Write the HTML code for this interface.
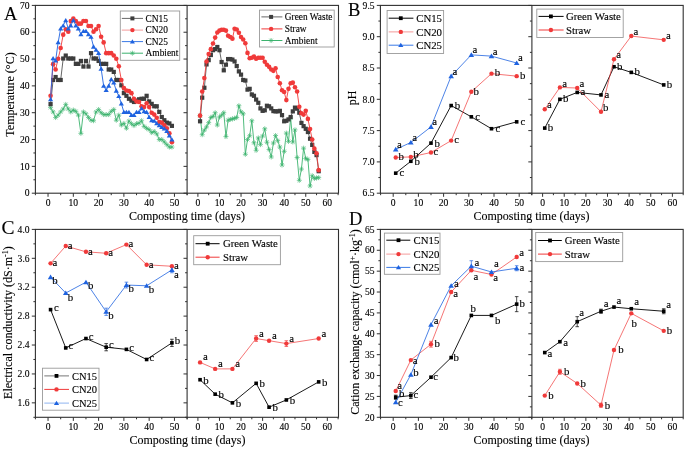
<!DOCTYPE html><html><head><meta charset="utf-8"><style>html,body{margin:0;padding:0;background:#fff;width:685px;height:449px;overflow:hidden}svg{display:block;will-change:transform}</style></head><body>
<svg width="685" height="449" viewBox="0 0 685 449" font-family='"Liberation Serif", serif' fill="#000"><style>text{stroke:#000;stroke-width:0.12px}</style>
<rect x="35.4" y="5.4" width="303.1" height="187.8" fill="none" stroke="#303030" stroke-width="1.1"/>
<line x1="187.1" y1="5.4" x2="187.1" y2="193.2" stroke="#303030" stroke-width="1.1"/>
<line x1="33.4" y1="179.79" x2="35.4" y2="179.79" stroke="#303030" stroke-width="1"/>
<line x1="33.4" y1="152.96" x2="35.4" y2="152.96" stroke="#303030" stroke-width="1"/>
<line x1="33.4" y1="126.13" x2="35.4" y2="126.13" stroke="#303030" stroke-width="1"/>
<line x1="33.4" y1="99.3" x2="35.4" y2="99.3" stroke="#303030" stroke-width="1"/>
<line x1="33.4" y1="72.47" x2="35.4" y2="72.47" stroke="#303030" stroke-width="1"/>
<line x1="33.4" y1="45.64" x2="35.4" y2="45.64" stroke="#303030" stroke-width="1"/>
<line x1="33.4" y1="18.81" x2="35.4" y2="18.81" stroke="#303030" stroke-width="1"/>
<line x1="31.8" y1="193.2" x2="35.4" y2="193.2" stroke="#303030" stroke-width="1"/>
<text x="29.6" y="196.4" text-anchor="end" font-size="9.6">0</text>
<line x1="31.8" y1="166.37" x2="35.4" y2="166.37" stroke="#303030" stroke-width="1"/>
<text x="29.6" y="169.57" text-anchor="end" font-size="9.6">10</text>
<line x1="31.8" y1="139.54" x2="35.4" y2="139.54" stroke="#303030" stroke-width="1"/>
<text x="29.6" y="142.74" text-anchor="end" font-size="9.6">20</text>
<line x1="31.8" y1="112.71" x2="35.4" y2="112.71" stroke="#303030" stroke-width="1"/>
<text x="29.6" y="115.91" text-anchor="end" font-size="9.6">30</text>
<line x1="31.8" y1="85.89" x2="35.4" y2="85.89" stroke="#303030" stroke-width="1"/>
<text x="29.6" y="89.09" text-anchor="end" font-size="9.6">40</text>
<line x1="31.8" y1="59.06" x2="35.4" y2="59.06" stroke="#303030" stroke-width="1"/>
<text x="29.6" y="62.26" text-anchor="end" font-size="9.6">50</text>
<line x1="31.8" y1="32.23" x2="35.4" y2="32.23" stroke="#303030" stroke-width="1"/>
<text x="29.6" y="35.43" text-anchor="end" font-size="9.6">60</text>
<line x1="31.8" y1="5.4" x2="35.4" y2="5.4" stroke="#303030" stroke-width="1"/>
<text x="29.6" y="8.6" text-anchor="end" font-size="9.6">70</text>
<line x1="185.1" y1="179.79" x2="187.1" y2="179.79" stroke="#303030" stroke-width="1"/>
<line x1="185.1" y1="152.96" x2="187.1" y2="152.96" stroke="#303030" stroke-width="1"/>
<line x1="185.1" y1="126.13" x2="187.1" y2="126.13" stroke="#303030" stroke-width="1"/>
<line x1="185.1" y1="99.3" x2="187.1" y2="99.3" stroke="#303030" stroke-width="1"/>
<line x1="185.1" y1="72.47" x2="187.1" y2="72.47" stroke="#303030" stroke-width="1"/>
<line x1="185.1" y1="45.64" x2="187.1" y2="45.64" stroke="#303030" stroke-width="1"/>
<line x1="185.1" y1="18.81" x2="187.1" y2="18.81" stroke="#303030" stroke-width="1"/>
<line x1="183.5" y1="193.2" x2="187.1" y2="193.2" stroke="#303030" stroke-width="1"/>
<line x1="183.5" y1="166.37" x2="187.1" y2="166.37" stroke="#303030" stroke-width="1"/>
<line x1="183.5" y1="139.54" x2="187.1" y2="139.54" stroke="#303030" stroke-width="1"/>
<line x1="183.5" y1="112.71" x2="187.1" y2="112.71" stroke="#303030" stroke-width="1"/>
<line x1="183.5" y1="85.89" x2="187.1" y2="85.89" stroke="#303030" stroke-width="1"/>
<line x1="183.5" y1="59.06" x2="187.1" y2="59.06" stroke="#303030" stroke-width="1"/>
<line x1="183.5" y1="32.23" x2="187.1" y2="32.23" stroke="#303030" stroke-width="1"/>
<line x1="183.5" y1="5.4" x2="187.1" y2="5.4" stroke="#303030" stroke-width="1"/>
<line x1="35.4" y1="193.2" x2="35.4" y2="195.2" stroke="#303030" stroke-width="1"/>
<line x1="48.04" y1="193.2" x2="48.04" y2="196.8" stroke="#303030" stroke-width="1"/>
<text x="48.04" y="205.8" text-anchor="middle" font-size="9.6">0</text>
<line x1="60.68" y1="193.2" x2="60.68" y2="195.2" stroke="#303030" stroke-width="1"/>
<line x1="73.32" y1="193.2" x2="73.32" y2="196.8" stroke="#303030" stroke-width="1"/>
<text x="73.32" y="205.8" text-anchor="middle" font-size="9.6">10</text>
<line x1="85.96" y1="193.2" x2="85.96" y2="195.2" stroke="#303030" stroke-width="1"/>
<line x1="98.6" y1="193.2" x2="98.6" y2="196.8" stroke="#303030" stroke-width="1"/>
<text x="98.6" y="205.8" text-anchor="middle" font-size="9.6">20</text>
<line x1="111.24" y1="193.2" x2="111.24" y2="195.2" stroke="#303030" stroke-width="1"/>
<line x1="123.88" y1="193.2" x2="123.88" y2="196.8" stroke="#303030" stroke-width="1"/>
<text x="123.88" y="205.8" text-anchor="middle" font-size="9.6">30</text>
<line x1="136.52" y1="193.2" x2="136.52" y2="195.2" stroke="#303030" stroke-width="1"/>
<line x1="149.16" y1="193.2" x2="149.16" y2="196.8" stroke="#303030" stroke-width="1"/>
<text x="149.16" y="205.8" text-anchor="middle" font-size="9.6">40</text>
<line x1="161.8" y1="193.2" x2="161.8" y2="195.2" stroke="#303030" stroke-width="1"/>
<line x1="174.44" y1="193.2" x2="174.44" y2="196.8" stroke="#303030" stroke-width="1"/>
<text x="174.44" y="205.8" text-anchor="middle" font-size="9.6">50</text>
<line x1="187.08" y1="193.2" x2="187.08" y2="195.2" stroke="#303030" stroke-width="1"/>
<line x1="187.12" y1="193.2" x2="187.12" y2="195.2" stroke="#303030" stroke-width="1"/>
<line x1="197.9" y1="193.2" x2="197.9" y2="196.8" stroke="#303030" stroke-width="1"/>
<text x="197.9" y="205.8" text-anchor="middle" font-size="9.6">0</text>
<line x1="208.69" y1="193.2" x2="208.69" y2="195.2" stroke="#303030" stroke-width="1"/>
<line x1="219.47" y1="193.2" x2="219.47" y2="196.8" stroke="#303030" stroke-width="1"/>
<text x="219.47" y="205.8" text-anchor="middle" font-size="9.6">10</text>
<line x1="230.25" y1="193.2" x2="230.25" y2="195.2" stroke="#303030" stroke-width="1"/>
<line x1="241.04" y1="193.2" x2="241.04" y2="196.8" stroke="#303030" stroke-width="1"/>
<text x="241.04" y="205.8" text-anchor="middle" font-size="9.6">20</text>
<line x1="251.82" y1="193.2" x2="251.82" y2="195.2" stroke="#303030" stroke-width="1"/>
<line x1="262.61" y1="193.2" x2="262.61" y2="196.8" stroke="#303030" stroke-width="1"/>
<text x="262.61" y="205.8" text-anchor="middle" font-size="9.6">30</text>
<line x1="273.39" y1="193.2" x2="273.39" y2="195.2" stroke="#303030" stroke-width="1"/>
<line x1="284.18" y1="193.2" x2="284.18" y2="196.8" stroke="#303030" stroke-width="1"/>
<text x="284.18" y="205.8" text-anchor="middle" font-size="9.6">40</text>
<line x1="294.97" y1="193.2" x2="294.97" y2="195.2" stroke="#303030" stroke-width="1"/>
<line x1="305.75" y1="193.2" x2="305.75" y2="196.8" stroke="#303030" stroke-width="1"/>
<text x="305.75" y="205.8" text-anchor="middle" font-size="9.6">50</text>
<line x1="316.54" y1="193.2" x2="316.54" y2="195.2" stroke="#303030" stroke-width="1"/>
<line x1="327.32" y1="193.2" x2="327.32" y2="196.8" stroke="#303030" stroke-width="1"/>
<text x="327.32" y="205.8" text-anchor="middle" font-size="9.6">60</text>
<line x1="338.11" y1="193.2" x2="338.11" y2="195.2" stroke="#303030" stroke-width="1"/>
<polyline points="50.57,107.62 53.1,111.91 55.62,117.54 58.15,115.13 60.68,111.91 63.21,108.96 65.74,104.4 68.26,108.96 70.79,111.91 73.32,110.03 75.85,111.37 78.38,115.13 80.9,133.37 83.43,111.91 85.96,113.79 88.49,117.54 91.02,120.23 93.54,120.76 96.07,111.91 98.6,109.49 101.13,112.71 103.66,114.59 106.18,114.59 108.71,114.59 111.24,111.37 113.77,109.49 116.3,120.23 118.82,115.13 121.35,125.06 123.88,123.45 126.41,128.27 128.94,121.03 131.46,123.71 133.99,125.59 136.52,123.71 139.05,123.18 141.58,120.76 144.1,126.4 146.63,128.27 149.16,129.62 151.69,132.57 154.22,131.49 156.74,133.91 159.27,139.54 161.8,139.54 164.33,141.96 166.86,144.64 169.38,147.05 171.91,147.05" fill="none" stroke="#3cb36e" stroke-width="0.9" stroke-linejoin="round"/>
<path d="M48.07 107.62L53.07 107.62M50.57 105.12L50.57 110.12M48.77 105.82L52.37 109.42M48.77 109.42L52.37 105.82" stroke="#3cb36e" stroke-width="0.65" fill="none"/>
<path d="M50.6 111.91L55.6 111.91M53.1 109.41L53.1 114.41M51.3 110.11L54.9 113.71M51.3 113.71L54.9 110.11" stroke="#3cb36e" stroke-width="0.65" fill="none"/>
<path d="M53.12 117.54L58.12 117.54M55.62 115.04L55.62 120.04M53.82 115.74L57.42 119.34M53.82 119.34L57.42 115.74" stroke="#3cb36e" stroke-width="0.65" fill="none"/>
<path d="M55.65 115.13L60.65 115.13M58.15 112.63L58.15 117.63M56.35 113.33L59.95 116.93M56.35 116.93L59.95 113.33" stroke="#3cb36e" stroke-width="0.65" fill="none"/>
<path d="M58.18 111.91L63.18 111.91M60.68 109.41L60.68 114.41M58.88 110.11L62.48 113.71M58.88 113.71L62.48 110.11" stroke="#3cb36e" stroke-width="0.65" fill="none"/>
<path d="M60.71 108.96L65.71 108.96M63.21 106.46L63.21 111.46M61.41 107.16L65.01 110.76M61.41 110.76L65.01 107.16" stroke="#3cb36e" stroke-width="0.65" fill="none"/>
<path d="M63.24 104.4L68.24 104.4M65.74 101.9L65.74 106.9M63.94 102.6L67.54 106.2M63.94 106.2L67.54 102.6" stroke="#3cb36e" stroke-width="0.65" fill="none"/>
<path d="M65.76 108.96L70.76 108.96M68.26 106.46L68.26 111.46M66.46 107.16L70.06 110.76M66.46 110.76L70.06 107.16" stroke="#3cb36e" stroke-width="0.65" fill="none"/>
<path d="M68.29 111.91L73.29 111.91M70.79 109.41L70.79 114.41M68.99 110.11L72.59 113.71M68.99 113.71L72.59 110.11" stroke="#3cb36e" stroke-width="0.65" fill="none"/>
<path d="M70.82 110.03L75.82 110.03M73.32 107.53L73.32 112.53M71.52 108.23L75.12 111.83M71.52 111.83L75.12 108.23" stroke="#3cb36e" stroke-width="0.65" fill="none"/>
<path d="M73.35 111.37L78.35 111.37M75.85 108.87L75.85 113.87M74.05 109.57L77.65 113.17M74.05 113.17L77.65 109.57" stroke="#3cb36e" stroke-width="0.65" fill="none"/>
<path d="M75.88 115.13L80.88 115.13M78.38 112.63L78.38 117.63M76.58 113.33L80.18 116.93M76.58 116.93L80.18 113.33" stroke="#3cb36e" stroke-width="0.65" fill="none"/>
<path d="M78.4 133.37L83.4 133.37M80.9 130.87L80.9 135.87M79.1 131.57L82.7 135.17M79.1 135.17L82.7 131.57" stroke="#3cb36e" stroke-width="0.65" fill="none"/>
<path d="M80.93 111.91L85.93 111.91M83.43 109.41L83.43 114.41M81.63 110.11L85.23 113.71M81.63 113.71L85.23 110.11" stroke="#3cb36e" stroke-width="0.65" fill="none"/>
<path d="M83.46 113.79L88.46 113.79M85.96 111.29L85.96 116.29M84.16 111.99L87.76 115.59M84.16 115.59L87.76 111.99" stroke="#3cb36e" stroke-width="0.65" fill="none"/>
<path d="M85.99 117.54L90.99 117.54M88.49 115.04L88.49 120.04M86.69 115.74L90.29 119.34M86.69 119.34L90.29 115.74" stroke="#3cb36e" stroke-width="0.65" fill="none"/>
<path d="M88.52 120.23L93.52 120.23M91.02 117.73L91.02 122.73M89.22 118.43L92.82 122.03M89.22 122.03L92.82 118.43" stroke="#3cb36e" stroke-width="0.65" fill="none"/>
<path d="M91.04 120.76L96.04 120.76M93.54 118.26L93.54 123.26M91.74 118.96L95.34 122.56M91.74 122.56L95.34 118.96" stroke="#3cb36e" stroke-width="0.65" fill="none"/>
<path d="M93.57 111.91L98.57 111.91M96.07 109.41L96.07 114.41M94.27 110.11L97.87 113.71M94.27 113.71L97.87 110.11" stroke="#3cb36e" stroke-width="0.65" fill="none"/>
<path d="M96.1 109.49L101.1 109.49M98.6 106.99L98.6 111.99M96.8 107.69L100.4 111.29M96.8 111.29L100.4 107.69" stroke="#3cb36e" stroke-width="0.65" fill="none"/>
<path d="M98.63 112.71L103.63 112.71M101.13 110.21L101.13 115.21M99.33 110.91L102.93 114.51M99.33 114.51L102.93 110.91" stroke="#3cb36e" stroke-width="0.65" fill="none"/>
<path d="M101.16 114.59L106.16 114.59M103.66 112.09L103.66 117.09M101.86 112.79L105.46 116.39M101.86 116.39L105.46 112.79" stroke="#3cb36e" stroke-width="0.65" fill="none"/>
<path d="M103.68 114.59L108.68 114.59M106.18 112.09L106.18 117.09M104.38 112.79L107.98 116.39M104.38 116.39L107.98 112.79" stroke="#3cb36e" stroke-width="0.65" fill="none"/>
<path d="M106.21 114.59L111.21 114.59M108.71 112.09L108.71 117.09M106.91 112.79L110.51 116.39M106.91 116.39L110.51 112.79" stroke="#3cb36e" stroke-width="0.65" fill="none"/>
<path d="M108.74 111.37L113.74 111.37M111.24 108.87L111.24 113.87M109.44 109.57L113.04 113.17M109.44 113.17L113.04 109.57" stroke="#3cb36e" stroke-width="0.65" fill="none"/>
<path d="M111.27 109.49L116.27 109.49M113.77 106.99L113.77 111.99M111.97 107.69L115.57 111.29M111.97 111.29L115.57 107.69" stroke="#3cb36e" stroke-width="0.65" fill="none"/>
<path d="M113.8 120.23L118.8 120.23M116.3 117.73L116.3 122.73M114.5 118.43L118.1 122.03M114.5 122.03L118.1 118.43" stroke="#3cb36e" stroke-width="0.65" fill="none"/>
<path d="M116.32 115.13L121.32 115.13M118.82 112.63L118.82 117.63M117.02 113.33L120.62 116.93M117.02 116.93L120.62 113.33" stroke="#3cb36e" stroke-width="0.65" fill="none"/>
<path d="M118.85 125.06L123.85 125.06M121.35 122.56L121.35 127.56M119.55 123.26L123.15 126.86M119.55 126.86L123.15 123.26" stroke="#3cb36e" stroke-width="0.65" fill="none"/>
<path d="M121.38 123.45L126.38 123.45M123.88 120.95L123.88 125.95M122.08 121.65L125.68 125.25M122.08 125.25L125.68 121.65" stroke="#3cb36e" stroke-width="0.65" fill="none"/>
<path d="M123.91 128.27L128.91 128.27M126.41 125.77L126.41 130.77M124.61 126.47L128.21 130.07M124.61 130.07L128.21 126.47" stroke="#3cb36e" stroke-width="0.65" fill="none"/>
<path d="M126.44 121.03L131.44 121.03M128.94 118.53L128.94 123.53M127.14 119.23L130.74 122.83M127.14 122.83L130.74 119.23" stroke="#3cb36e" stroke-width="0.65" fill="none"/>
<path d="M128.96 123.71L133.96 123.71M131.46 121.21L131.46 126.21M129.66 121.91L133.26 125.51M129.66 125.51L133.26 121.91" stroke="#3cb36e" stroke-width="0.65" fill="none"/>
<path d="M131.49 125.59L136.49 125.59M133.99 123.09L133.99 128.09M132.19 123.79L135.79 127.39M132.19 127.39L135.79 123.79" stroke="#3cb36e" stroke-width="0.65" fill="none"/>
<path d="M134.02 123.71L139.02 123.71M136.52 121.21L136.52 126.21M134.72 121.91L138.32 125.51M134.72 125.51L138.32 121.91" stroke="#3cb36e" stroke-width="0.65" fill="none"/>
<path d="M136.55 123.18L141.55 123.18M139.05 120.68L139.05 125.68M137.25 121.38L140.85 124.98M137.25 124.98L140.85 121.38" stroke="#3cb36e" stroke-width="0.65" fill="none"/>
<path d="M139.08 120.76L144.08 120.76M141.58 118.26L141.58 123.26M139.78 118.96L143.38 122.56M139.78 122.56L143.38 118.96" stroke="#3cb36e" stroke-width="0.65" fill="none"/>
<path d="M141.6 126.4L146.6 126.4M144.1 123.9L144.1 128.9M142.3 124.6L145.9 128.2M142.3 128.2L145.9 124.6" stroke="#3cb36e" stroke-width="0.65" fill="none"/>
<path d="M144.13 128.27L149.13 128.27M146.63 125.77L146.63 130.77M144.83 126.47L148.43 130.07M144.83 130.07L148.43 126.47" stroke="#3cb36e" stroke-width="0.65" fill="none"/>
<path d="M146.66 129.62L151.66 129.62M149.16 127.12L149.16 132.12M147.36 127.82L150.96 131.42M147.36 131.42L150.96 127.82" stroke="#3cb36e" stroke-width="0.65" fill="none"/>
<path d="M149.19 132.57L154.19 132.57M151.69 130.07L151.69 135.07M149.89 130.77L153.49 134.37M149.89 134.37L153.49 130.77" stroke="#3cb36e" stroke-width="0.65" fill="none"/>
<path d="M151.72 131.49L156.72 131.49M154.22 128.99L154.22 133.99M152.42 129.69L156.02 133.29M152.42 133.29L156.02 129.69" stroke="#3cb36e" stroke-width="0.65" fill="none"/>
<path d="M154.24 133.91L159.24 133.91M156.74 131.41L156.74 136.41M154.94 132.11L158.54 135.71M154.94 135.71L158.54 132.11" stroke="#3cb36e" stroke-width="0.65" fill="none"/>
<path d="M156.77 139.54L161.77 139.54M159.27 137.04L159.27 142.04M157.47 137.74L161.07 141.34M157.47 141.34L161.07 137.74" stroke="#3cb36e" stroke-width="0.65" fill="none"/>
<path d="M159.3 139.54L164.3 139.54M161.8 137.04L161.8 142.04M160 137.74L163.6 141.34M160 141.34L163.6 137.74" stroke="#3cb36e" stroke-width="0.65" fill="none"/>
<path d="M161.83 141.96L166.83 141.96M164.33 139.46L164.33 144.46M162.53 140.16L166.13 143.76M162.53 143.76L166.13 140.16" stroke="#3cb36e" stroke-width="0.65" fill="none"/>
<path d="M164.36 144.64L169.36 144.64M166.86 142.14L166.86 147.14M165.06 142.84L168.66 146.44M165.06 146.44L168.66 142.84" stroke="#3cb36e" stroke-width="0.65" fill="none"/>
<path d="M166.88 147.05L171.88 147.05M169.38 144.55L169.38 149.55M167.58 145.25L171.18 148.85M167.58 148.85L171.18 145.25" stroke="#3cb36e" stroke-width="0.65" fill="none"/>
<path d="M169.41 147.05L174.41 147.05M171.91 144.55L171.91 149.55M170.11 145.25L173.71 148.85M170.11 148.85L173.71 145.25" stroke="#3cb36e" stroke-width="0.65" fill="none"/>
<polyline points="50.57,104.13 53.1,79.98 55.62,77.03 58.15,79.98 60.68,79.98 63.21,58.52 65.74,55.57 68.26,58.52 70.79,58.52 73.32,58.52 75.85,63.89 78.38,63.89 80.9,60.94 83.43,66.57 85.96,60.94 88.49,66.57 91.02,53.15 93.54,58.52 96.07,58.52 98.6,60.94 101.13,63.89 103.66,63.89 106.18,63.89 108.71,69.52 111.24,69.52 113.77,71.93 116.3,79.98 118.82,79.98 121.35,85.35 123.88,93.13 126.41,95.81 128.94,98.76 131.46,100.64 133.99,101.98 136.52,100.64 139.05,99.3 141.58,98.76 144.1,98.76 146.63,95.81 149.16,101.45 151.69,103.86 154.22,106.28 156.74,106.28 159.27,111.91 161.8,117.01 164.33,120.23 166.86,122.64 169.38,123.45 171.91,125.86" fill="none" stroke="#555" stroke-width="0.9" stroke-linejoin="round"/>
<rect x="48.47" y="102.03" width="4.2" height="4.2" fill="#3d3d3d"/>
<rect x="51" y="77.88" width="4.2" height="4.2" fill="#3d3d3d"/>
<rect x="53.52" y="74.93" width="4.2" height="4.2" fill="#3d3d3d"/>
<rect x="56.05" y="77.88" width="4.2" height="4.2" fill="#3d3d3d"/>
<rect x="58.58" y="77.88" width="4.2" height="4.2" fill="#3d3d3d"/>
<rect x="61.11" y="56.42" width="4.2" height="4.2" fill="#3d3d3d"/>
<rect x="63.64" y="53.47" width="4.2" height="4.2" fill="#3d3d3d"/>
<rect x="66.16" y="56.42" width="4.2" height="4.2" fill="#3d3d3d"/>
<rect x="68.69" y="56.42" width="4.2" height="4.2" fill="#3d3d3d"/>
<rect x="71.22" y="56.42" width="4.2" height="4.2" fill="#3d3d3d"/>
<rect x="73.75" y="61.79" width="4.2" height="4.2" fill="#3d3d3d"/>
<rect x="76.28" y="61.79" width="4.2" height="4.2" fill="#3d3d3d"/>
<rect x="78.8" y="58.84" width="4.2" height="4.2" fill="#3d3d3d"/>
<rect x="81.33" y="64.47" width="4.2" height="4.2" fill="#3d3d3d"/>
<rect x="83.86" y="58.84" width="4.2" height="4.2" fill="#3d3d3d"/>
<rect x="86.39" y="64.47" width="4.2" height="4.2" fill="#3d3d3d"/>
<rect x="88.92" y="51.05" width="4.2" height="4.2" fill="#3d3d3d"/>
<rect x="91.44" y="56.42" width="4.2" height="4.2" fill="#3d3d3d"/>
<rect x="93.97" y="56.42" width="4.2" height="4.2" fill="#3d3d3d"/>
<rect x="96.5" y="58.84" width="4.2" height="4.2" fill="#3d3d3d"/>
<rect x="99.03" y="61.79" width="4.2" height="4.2" fill="#3d3d3d"/>
<rect x="101.56" y="61.79" width="4.2" height="4.2" fill="#3d3d3d"/>
<rect x="104.08" y="61.79" width="4.2" height="4.2" fill="#3d3d3d"/>
<rect x="106.61" y="67.42" width="4.2" height="4.2" fill="#3d3d3d"/>
<rect x="109.14" y="67.42" width="4.2" height="4.2" fill="#3d3d3d"/>
<rect x="111.67" y="69.83" width="4.2" height="4.2" fill="#3d3d3d"/>
<rect x="114.2" y="77.88" width="4.2" height="4.2" fill="#3d3d3d"/>
<rect x="116.72" y="77.88" width="4.2" height="4.2" fill="#3d3d3d"/>
<rect x="119.25" y="83.25" width="4.2" height="4.2" fill="#3d3d3d"/>
<rect x="121.78" y="91.03" width="4.2" height="4.2" fill="#3d3d3d"/>
<rect x="124.31" y="93.71" width="4.2" height="4.2" fill="#3d3d3d"/>
<rect x="126.84" y="96.66" width="4.2" height="4.2" fill="#3d3d3d"/>
<rect x="129.36" y="98.54" width="4.2" height="4.2" fill="#3d3d3d"/>
<rect x="131.89" y="99.88" width="4.2" height="4.2" fill="#3d3d3d"/>
<rect x="134.42" y="98.54" width="4.2" height="4.2" fill="#3d3d3d"/>
<rect x="136.95" y="97.2" width="4.2" height="4.2" fill="#3d3d3d"/>
<rect x="139.48" y="96.66" width="4.2" height="4.2" fill="#3d3d3d"/>
<rect x="142" y="96.66" width="4.2" height="4.2" fill="#3d3d3d"/>
<rect x="144.53" y="93.71" width="4.2" height="4.2" fill="#3d3d3d"/>
<rect x="147.06" y="99.35" width="4.2" height="4.2" fill="#3d3d3d"/>
<rect x="149.59" y="101.76" width="4.2" height="4.2" fill="#3d3d3d"/>
<rect x="152.12" y="104.18" width="4.2" height="4.2" fill="#3d3d3d"/>
<rect x="154.64" y="104.18" width="4.2" height="4.2" fill="#3d3d3d"/>
<rect x="157.17" y="109.81" width="4.2" height="4.2" fill="#3d3d3d"/>
<rect x="159.7" y="114.91" width="4.2" height="4.2" fill="#3d3d3d"/>
<rect x="162.23" y="118.13" width="4.2" height="4.2" fill="#3d3d3d"/>
<rect x="164.76" y="120.54" width="4.2" height="4.2" fill="#3d3d3d"/>
<rect x="167.28" y="121.35" width="4.2" height="4.2" fill="#3d3d3d"/>
<rect x="169.81" y="123.76" width="4.2" height="4.2" fill="#3d3d3d"/>
<polyline points="50.57,95.81 53.1,64.15 55.62,69.52 58.15,58.79 60.68,48.06 63.21,34.64 65.74,29.28 68.26,31.69 70.79,20.96 73.32,18.55 75.85,20.96 78.38,23.64 80.9,23.64 83.43,20.96 85.96,20.96 88.49,26.06 91.02,26.06 93.54,31.69 96.07,29.28 98.6,26.06 101.13,36.79 103.66,42.42 106.18,53.15 108.71,53.15 111.24,53.15 113.77,55.57 116.3,58.79 118.82,66.3 121.35,79.98 123.88,88.03 126.41,90.45 128.94,90.98 131.46,93.13 133.99,98.76 136.52,101.45 139.05,101.98 141.58,106.28 144.1,107.08 146.63,103.32 149.16,107.08 151.69,112.71 154.22,114.59 156.74,117.81 159.27,122.1 161.8,122.64 164.33,125.32 166.86,128.27 169.38,133.37 171.91,142.23" fill="none" stroke="#f03a3a" stroke-width="0.9" stroke-linejoin="round"/>
<circle cx="50.57" cy="95.81" r="2.3" fill="#f03a3a"/>
<circle cx="53.1" cy="64.15" r="2.3" fill="#f03a3a"/>
<circle cx="55.62" cy="69.52" r="2.3" fill="#f03a3a"/>
<circle cx="58.15" cy="58.79" r="2.3" fill="#f03a3a"/>
<circle cx="60.68" cy="48.06" r="2.3" fill="#f03a3a"/>
<circle cx="63.21" cy="34.64" r="2.3" fill="#f03a3a"/>
<circle cx="65.74" cy="29.28" r="2.3" fill="#f03a3a"/>
<circle cx="68.26" cy="31.69" r="2.3" fill="#f03a3a"/>
<circle cx="70.79" cy="20.96" r="2.3" fill="#f03a3a"/>
<circle cx="73.32" cy="18.55" r="2.3" fill="#f03a3a"/>
<circle cx="75.85" cy="20.96" r="2.3" fill="#f03a3a"/>
<circle cx="78.38" cy="23.64" r="2.3" fill="#f03a3a"/>
<circle cx="80.9" cy="23.64" r="2.3" fill="#f03a3a"/>
<circle cx="83.43" cy="20.96" r="2.3" fill="#f03a3a"/>
<circle cx="85.96" cy="20.96" r="2.3" fill="#f03a3a"/>
<circle cx="88.49" cy="26.06" r="2.3" fill="#f03a3a"/>
<circle cx="91.02" cy="26.06" r="2.3" fill="#f03a3a"/>
<circle cx="93.54" cy="31.69" r="2.3" fill="#f03a3a"/>
<circle cx="96.07" cy="29.28" r="2.3" fill="#f03a3a"/>
<circle cx="98.6" cy="26.06" r="2.3" fill="#f03a3a"/>
<circle cx="101.13" cy="36.79" r="2.3" fill="#f03a3a"/>
<circle cx="103.66" cy="42.42" r="2.3" fill="#f03a3a"/>
<circle cx="106.18" cy="53.15" r="2.3" fill="#f03a3a"/>
<circle cx="108.71" cy="53.15" r="2.3" fill="#f03a3a"/>
<circle cx="111.24" cy="53.15" r="2.3" fill="#f03a3a"/>
<circle cx="113.77" cy="55.57" r="2.3" fill="#f03a3a"/>
<circle cx="116.3" cy="58.79" r="2.3" fill="#f03a3a"/>
<circle cx="118.82" cy="66.3" r="2.3" fill="#f03a3a"/>
<circle cx="121.35" cy="79.98" r="2.3" fill="#f03a3a"/>
<circle cx="123.88" cy="88.03" r="2.3" fill="#f03a3a"/>
<circle cx="126.41" cy="90.45" r="2.3" fill="#f03a3a"/>
<circle cx="128.94" cy="90.98" r="2.3" fill="#f03a3a"/>
<circle cx="131.46" cy="93.13" r="2.3" fill="#f03a3a"/>
<circle cx="133.99" cy="98.76" r="2.3" fill="#f03a3a"/>
<circle cx="136.52" cy="101.45" r="2.3" fill="#f03a3a"/>
<circle cx="139.05" cy="101.98" r="2.3" fill="#f03a3a"/>
<circle cx="141.58" cy="106.28" r="2.3" fill="#f03a3a"/>
<circle cx="144.1" cy="107.08" r="2.3" fill="#f03a3a"/>
<circle cx="146.63" cy="103.32" r="2.3" fill="#f03a3a"/>
<circle cx="149.16" cy="107.08" r="2.3" fill="#f03a3a"/>
<circle cx="151.69" cy="112.71" r="2.3" fill="#f03a3a"/>
<circle cx="154.22" cy="114.59" r="2.3" fill="#f03a3a"/>
<circle cx="156.74" cy="117.81" r="2.3" fill="#f03a3a"/>
<circle cx="159.27" cy="122.1" r="2.3" fill="#f03a3a"/>
<circle cx="161.8" cy="122.64" r="2.3" fill="#f03a3a"/>
<circle cx="164.33" cy="125.32" r="2.3" fill="#f03a3a"/>
<circle cx="166.86" cy="128.27" r="2.3" fill="#f03a3a"/>
<circle cx="169.38" cy="133.37" r="2.3" fill="#f03a3a"/>
<circle cx="171.91" cy="142.23" r="2.3" fill="#f03a3a"/>
<polyline points="50.57,99.3 53.1,58.25 55.62,60.67 58.15,42.42 60.68,28.47 63.21,25.52 65.74,20.42 68.26,28.47 70.79,25.52 73.32,20.42 75.85,25.52 78.38,28.47 80.9,34.37 83.43,31.16 85.96,31.16 88.49,34.37 91.02,36.79 93.54,46.72 96.07,49.94 98.6,53.15 101.13,68.72 103.66,85.89 106.18,90.18 108.71,85.89 111.24,79.45 113.77,82.67 116.3,90.71 118.82,96.08 121.35,103.59 123.88,112.18 126.41,112.18 128.94,112.18 131.46,115.13 133.99,115.13 136.52,112.18 139.05,112.18 141.58,108.42 144.1,111.37 146.63,112.18 149.16,117.01 151.69,120.23 154.22,120.76 156.74,123.45 159.27,125.32 161.8,127.2 164.33,128.54 166.86,130.96 169.38,135.52 171.91,139.54" fill="none" stroke="#1f63e0" stroke-width="0.9" stroke-linejoin="round"/>
<path d="M47.97 101.22L53.17 101.22L50.57 96.95Z" fill="#1f63e0"/>
<path d="M50.5 60.17L55.7 60.17L53.1 55.91Z" fill="#1f63e0"/>
<path d="M53.02 62.59L58.22 62.59L55.62 58.32Z" fill="#1f63e0"/>
<path d="M55.55 44.34L60.75 44.34L58.15 40.08Z" fill="#1f63e0"/>
<path d="M58.08 30.39L63.28 30.39L60.68 26.13Z" fill="#1f63e0"/>
<path d="M60.61 27.44L65.81 27.44L63.21 23.18Z" fill="#1f63e0"/>
<path d="M63.14 22.34L68.34 22.34L65.74 18.08Z" fill="#1f63e0"/>
<path d="M65.66 30.39L70.86 30.39L68.26 26.13Z" fill="#1f63e0"/>
<path d="M68.19 27.44L73.39 27.44L70.79 23.18Z" fill="#1f63e0"/>
<path d="M70.72 22.34L75.92 22.34L73.32 18.08Z" fill="#1f63e0"/>
<path d="M73.25 27.44L78.45 27.44L75.85 23.18Z" fill="#1f63e0"/>
<path d="M75.78 30.39L80.98 30.39L78.38 26.13Z" fill="#1f63e0"/>
<path d="M78.3 36.29L83.5 36.29L80.9 32.03Z" fill="#1f63e0"/>
<path d="M80.83 33.07L86.03 33.07L83.43 28.81Z" fill="#1f63e0"/>
<path d="M83.36 33.07L88.56 33.07L85.96 28.81Z" fill="#1f63e0"/>
<path d="M85.89 36.29L91.09 36.29L88.49 32.03Z" fill="#1f63e0"/>
<path d="M88.42 38.71L93.62 38.71L91.02 34.44Z" fill="#1f63e0"/>
<path d="M90.94 48.63L96.14 48.63L93.54 44.37Z" fill="#1f63e0"/>
<path d="M93.47 51.85L98.67 51.85L96.07 47.59Z" fill="#1f63e0"/>
<path d="M96 55.07L101.2 55.07L98.6 50.81Z" fill="#1f63e0"/>
<path d="M98.53 70.63L103.73 70.63L101.13 66.37Z" fill="#1f63e0"/>
<path d="M101.06 87.8L106.26 87.8L103.66 83.54Z" fill="#1f63e0"/>
<path d="M103.58 92.1L108.78 92.1L106.18 87.83Z" fill="#1f63e0"/>
<path d="M106.11 87.8L111.31 87.8L108.71 83.54Z" fill="#1f63e0"/>
<path d="M108.64 81.37L113.84 81.37L111.24 77.1Z" fill="#1f63e0"/>
<path d="M111.17 84.59L116.37 84.59L113.77 80.32Z" fill="#1f63e0"/>
<path d="M113.7 92.63L118.9 92.63L116.3 88.37Z" fill="#1f63e0"/>
<path d="M116.22 98L121.42 98L118.82 93.74Z" fill="#1f63e0"/>
<path d="M118.75 105.51L123.95 105.51L121.35 101.25Z" fill="#1f63e0"/>
<path d="M121.28 114.1L126.48 114.1L123.88 109.83Z" fill="#1f63e0"/>
<path d="M123.81 114.1L129.01 114.1L126.41 109.83Z" fill="#1f63e0"/>
<path d="M126.34 114.1L131.54 114.1L128.94 109.83Z" fill="#1f63e0"/>
<path d="M128.86 117.05L134.06 117.05L131.46 112.78Z" fill="#1f63e0"/>
<path d="M131.39 117.05L136.59 117.05L133.99 112.78Z" fill="#1f63e0"/>
<path d="M133.92 114.1L139.12 114.1L136.52 109.83Z" fill="#1f63e0"/>
<path d="M136.45 114.1L141.65 114.1L139.05 109.83Z" fill="#1f63e0"/>
<path d="M138.98 110.34L144.18 110.34L141.58 106.08Z" fill="#1f63e0"/>
<path d="M141.5 113.29L146.7 113.29L144.1 109.03Z" fill="#1f63e0"/>
<path d="M144.03 114.1L149.23 114.1L146.63 109.83Z" fill="#1f63e0"/>
<path d="M146.56 118.93L151.76 118.93L149.16 114.66Z" fill="#1f63e0"/>
<path d="M149.09 122.15L154.29 122.15L151.69 117.88Z" fill="#1f63e0"/>
<path d="M151.62 122.68L156.82 122.68L154.22 118.42Z" fill="#1f63e0"/>
<path d="M154.14 125.36L159.34 125.36L156.74 121.1Z" fill="#1f63e0"/>
<path d="M156.67 127.24L161.87 127.24L159.27 122.98Z" fill="#1f63e0"/>
<path d="M159.2 129.12L164.4 129.12L161.8 124.86Z" fill="#1f63e0"/>
<path d="M161.73 130.46L166.93 130.46L164.33 126.2Z" fill="#1f63e0"/>
<path d="M164.26 132.88L169.46 132.88L166.86 128.61Z" fill="#1f63e0"/>
<path d="M166.78 137.44L171.98 137.44L169.38 133.17Z" fill="#1f63e0"/>
<path d="M169.31 141.46L174.51 141.46L171.91 137.2Z" fill="#1f63e0"/>
<polyline points="200.06,115.67 202.21,134.71 204.37,130.15 206.53,126.93 208.69,122.64 210.84,117.54 213,116.47 215.16,112.71 217.31,125.06 219.47,117.01 221.63,115.13 223.78,112.71 225.94,136.59 228.1,120.23 230.25,119.42 232.41,118.88 234.57,118.35 236.73,117.54 238.88,105.74 241.04,111.91 243.2,113.79 245.35,154.3 247.51,139.54 249.67,135.79 251.82,120.76 253.98,142.76 256.14,150.27 258.3,137.93 260.45,144.64 262.61,136.06 264.77,128.81 266.92,142.23 269.08,149.47 271.24,156.98 273.39,143.03 275.55,135.52 277.71,140.62 279.87,147.05 282.02,165.03 284.18,151.35 286.34,133.1 288.49,141.42 290.65,118.08 292.81,141.96 294.97,129.88 297.12,157.52 299.28,180.32 301.44,169.05 303.59,148.13 305.75,158.59 307.91,159.4 310.06,185.96 312.22,175.76 314.38,178.44 316.54,177.91 318.69,177.64" fill="none" stroke="#3cb36e" stroke-width="0.9" stroke-linejoin="round"/>
<path d="M197.56 115.67L202.56 115.67M200.06 113.17L200.06 118.17M198.26 113.87L201.86 117.47M198.26 117.47L201.86 113.87" stroke="#3cb36e" stroke-width="0.65" fill="none"/>
<path d="M199.71 134.71L204.71 134.71M202.21 132.21L202.21 137.21M200.41 132.91L204.01 136.51M200.41 136.51L204.01 132.91" stroke="#3cb36e" stroke-width="0.65" fill="none"/>
<path d="M201.87 130.15L206.87 130.15M204.37 127.65L204.37 132.65M202.57 128.35L206.17 131.95M202.57 131.95L206.17 128.35" stroke="#3cb36e" stroke-width="0.65" fill="none"/>
<path d="M204.03 126.93L209.03 126.93M206.53 124.43L206.53 129.43M204.73 125.13L208.33 128.73M204.73 128.73L208.33 125.13" stroke="#3cb36e" stroke-width="0.65" fill="none"/>
<path d="M206.19 122.64L211.19 122.64M208.69 120.14L208.69 125.14M206.88 120.84L210.49 124.44M206.88 124.44L210.49 120.84" stroke="#3cb36e" stroke-width="0.65" fill="none"/>
<path d="M208.34 117.54L213.34 117.54M210.84 115.04L210.84 120.04M209.04 115.74L212.64 119.34M209.04 119.34L212.64 115.74" stroke="#3cb36e" stroke-width="0.65" fill="none"/>
<path d="M210.5 116.47L215.5 116.47M213 113.97L213 118.97M211.2 114.67L214.8 118.27M211.2 118.27L214.8 114.67" stroke="#3cb36e" stroke-width="0.65" fill="none"/>
<path d="M212.66 112.71L217.66 112.71M215.16 110.21L215.16 115.21M213.36 110.91L216.96 114.51M213.36 114.51L216.96 110.91" stroke="#3cb36e" stroke-width="0.65" fill="none"/>
<path d="M214.81 125.06L219.81 125.06M217.31 122.56L217.31 127.56M215.51 123.26L219.11 126.86M215.51 126.86L219.11 123.26" stroke="#3cb36e" stroke-width="0.65" fill="none"/>
<path d="M216.97 117.01L221.97 117.01M219.47 114.51L219.47 119.51M217.67 115.21L221.27 118.81M217.67 118.81L221.27 115.21" stroke="#3cb36e" stroke-width="0.65" fill="none"/>
<path d="M219.13 115.13L224.13 115.13M221.63 112.63L221.63 117.63M219.83 113.33L223.43 116.93M219.83 116.93L223.43 113.33" stroke="#3cb36e" stroke-width="0.65" fill="none"/>
<path d="M221.28 112.71L226.28 112.71M223.78 110.21L223.78 115.21M221.98 110.91L225.58 114.51M221.98 114.51L225.58 110.91" stroke="#3cb36e" stroke-width="0.65" fill="none"/>
<path d="M223.44 136.59L228.44 136.59M225.94 134.09L225.94 139.09M224.14 134.79L227.74 138.39M224.14 138.39L227.74 134.79" stroke="#3cb36e" stroke-width="0.65" fill="none"/>
<path d="M225.6 120.23L230.6 120.23M228.1 117.73L228.1 122.73M226.3 118.43L229.9 122.03M226.3 122.03L229.9 118.43" stroke="#3cb36e" stroke-width="0.65" fill="none"/>
<path d="M227.75 119.42L232.75 119.42M230.25 116.92L230.25 121.92M228.45 117.62L232.06 121.22M228.45 121.22L232.06 117.62" stroke="#3cb36e" stroke-width="0.65" fill="none"/>
<path d="M229.91 118.88L234.91 118.88M232.41 116.38L232.41 121.38M230.61 117.08L234.21 120.68M230.61 120.68L234.21 117.08" stroke="#3cb36e" stroke-width="0.65" fill="none"/>
<path d="M232.07 118.35L237.07 118.35M234.57 115.85L234.57 120.85M232.77 116.55L236.37 120.15M232.77 120.15L236.37 116.55" stroke="#3cb36e" stroke-width="0.65" fill="none"/>
<path d="M234.23 117.54L239.23 117.54M236.73 115.04L236.73 120.04M234.93 115.74L238.53 119.34M234.93 119.34L238.53 115.74" stroke="#3cb36e" stroke-width="0.65" fill="none"/>
<path d="M236.38 105.74L241.38 105.74M238.88 103.24L238.88 108.24M237.08 103.94L240.68 107.54M237.08 107.54L240.68 103.94" stroke="#3cb36e" stroke-width="0.65" fill="none"/>
<path d="M238.54 111.91L243.54 111.91M241.04 109.41L241.04 114.41M239.24 110.11L242.84 113.71M239.24 113.71L242.84 110.11" stroke="#3cb36e" stroke-width="0.65" fill="none"/>
<path d="M240.7 113.79L245.7 113.79M243.2 111.29L243.2 116.29M241.4 111.99L245 115.59M241.4 115.59L245 111.99" stroke="#3cb36e" stroke-width="0.65" fill="none"/>
<path d="M242.85 154.3L247.85 154.3M245.35 151.8L245.35 156.8M243.55 152.5L247.15 156.1M243.55 156.1L247.15 152.5" stroke="#3cb36e" stroke-width="0.65" fill="none"/>
<path d="M245.01 139.54L250.01 139.54M247.51 137.04L247.51 142.04M245.71 137.74L249.31 141.34M245.71 141.34L249.31 137.74" stroke="#3cb36e" stroke-width="0.65" fill="none"/>
<path d="M247.17 135.79L252.17 135.79M249.67 133.29L249.67 138.29M247.87 133.99L251.47 137.59M247.87 137.59L251.47 133.99" stroke="#3cb36e" stroke-width="0.65" fill="none"/>
<path d="M249.32 120.76L254.32 120.76M251.82 118.26L251.82 123.26M250.02 118.96L253.62 122.56M250.02 122.56L253.62 118.96" stroke="#3cb36e" stroke-width="0.65" fill="none"/>
<path d="M251.48 142.76L256.48 142.76M253.98 140.26L253.98 145.26M252.18 140.96L255.78 144.56M252.18 144.56L255.78 140.96" stroke="#3cb36e" stroke-width="0.65" fill="none"/>
<path d="M253.64 150.27L258.64 150.27M256.14 147.77L256.14 152.77M254.34 148.47L257.94 152.07M254.34 152.07L257.94 148.47" stroke="#3cb36e" stroke-width="0.65" fill="none"/>
<path d="M255.8 137.93L260.8 137.93M258.3 135.43L258.3 140.43M256.5 136.13L260.1 139.73M256.5 139.73L260.1 136.13" stroke="#3cb36e" stroke-width="0.65" fill="none"/>
<path d="M257.95 144.64L262.95 144.64M260.45 142.14L260.45 147.14M258.65 142.84L262.25 146.44M258.65 146.44L262.25 142.84" stroke="#3cb36e" stroke-width="0.65" fill="none"/>
<path d="M260.11 136.06L265.11 136.06M262.61 133.56L262.61 138.56M260.81 134.26L264.41 137.86M260.81 137.86L264.41 134.26" stroke="#3cb36e" stroke-width="0.65" fill="none"/>
<path d="M262.27 128.81L267.27 128.81M264.77 126.31L264.77 131.31M262.97 127.01L266.57 130.61M262.97 130.61L266.57 127.01" stroke="#3cb36e" stroke-width="0.65" fill="none"/>
<path d="M264.42 142.23L269.42 142.23M266.92 139.73L266.92 144.73M265.12 140.43L268.72 144.03M265.12 144.03L268.72 140.43" stroke="#3cb36e" stroke-width="0.65" fill="none"/>
<path d="M266.58 149.47L271.58 149.47M269.08 146.97L269.08 151.97M267.28 147.67L270.88 151.27M267.28 151.27L270.88 147.67" stroke="#3cb36e" stroke-width="0.65" fill="none"/>
<path d="M268.74 156.98L273.74 156.98M271.24 154.48L271.24 159.48M269.44 155.18L273.04 158.78M269.44 158.78L273.04 155.18" stroke="#3cb36e" stroke-width="0.65" fill="none"/>
<path d="M270.89 143.03L275.89 143.03M273.39 140.53L273.39 145.53M271.59 141.23L275.19 144.83M271.59 144.83L275.19 141.23" stroke="#3cb36e" stroke-width="0.65" fill="none"/>
<path d="M273.05 135.52L278.05 135.52M275.55 133.02L275.55 138.02M273.75 133.72L277.35 137.32M273.75 137.32L277.35 133.72" stroke="#3cb36e" stroke-width="0.65" fill="none"/>
<path d="M275.21 140.62L280.21 140.62M277.71 138.12L277.71 143.12M275.91 138.82L279.51 142.42M275.91 142.42L279.51 138.82" stroke="#3cb36e" stroke-width="0.65" fill="none"/>
<path d="M277.37 147.05L282.37 147.05M279.87 144.55L279.87 149.55M278.07 145.25L281.67 148.85M278.07 148.85L281.67 145.25" stroke="#3cb36e" stroke-width="0.65" fill="none"/>
<path d="M279.52 165.03L284.52 165.03M282.02 162.53L282.02 167.53M280.22 163.23L283.82 166.83M280.22 166.83L283.82 163.23" stroke="#3cb36e" stroke-width="0.65" fill="none"/>
<path d="M281.68 151.35L286.68 151.35M284.18 148.85L284.18 153.85M282.38 149.55L285.98 153.15M282.38 153.15L285.98 149.55" stroke="#3cb36e" stroke-width="0.65" fill="none"/>
<path d="M283.84 133.1L288.84 133.1M286.34 130.6L286.34 135.6M284.54 131.3L288.14 134.9M284.54 134.9L288.14 131.3" stroke="#3cb36e" stroke-width="0.65" fill="none"/>
<path d="M285.99 141.42L290.99 141.42M288.49 138.92L288.49 143.92M286.69 139.62L290.29 143.22M286.69 143.22L290.29 139.62" stroke="#3cb36e" stroke-width="0.65" fill="none"/>
<path d="M288.15 118.08L293.15 118.08M290.65 115.58L290.65 120.58M288.85 116.28L292.45 119.88M288.85 119.88L292.45 116.28" stroke="#3cb36e" stroke-width="0.65" fill="none"/>
<path d="M290.31 141.96L295.31 141.96M292.81 139.46L292.81 144.46M291.01 140.16L294.61 143.76M291.01 143.76L294.61 140.16" stroke="#3cb36e" stroke-width="0.65" fill="none"/>
<path d="M292.47 129.88L297.47 129.88M294.97 127.38L294.97 132.38M293.17 128.08L296.77 131.68M293.17 131.68L296.77 128.08" stroke="#3cb36e" stroke-width="0.65" fill="none"/>
<path d="M294.62 157.52L299.62 157.52M297.12 155.02L297.12 160.02M295.32 155.72L298.92 159.32M295.32 159.32L298.92 155.72" stroke="#3cb36e" stroke-width="0.65" fill="none"/>
<path d="M296.78 180.32L301.78 180.32M299.28 177.82L299.28 182.82M297.48 178.52L301.08 182.12M297.48 182.12L301.08 178.52" stroke="#3cb36e" stroke-width="0.65" fill="none"/>
<path d="M298.94 169.05L303.94 169.05M301.44 166.55L301.44 171.55M299.64 167.25L303.24 170.85M299.64 170.85L303.24 167.25" stroke="#3cb36e" stroke-width="0.65" fill="none"/>
<path d="M301.09 148.13L306.09 148.13M303.59 145.63L303.59 150.63M301.79 146.33L305.39 149.93M301.79 149.93L305.39 146.33" stroke="#3cb36e" stroke-width="0.65" fill="none"/>
<path d="M303.25 158.59L308.25 158.59M305.75 156.09L305.75 161.09M303.95 156.79L307.55 160.39M303.95 160.39L307.55 156.79" stroke="#3cb36e" stroke-width="0.65" fill="none"/>
<path d="M305.41 159.4L310.41 159.4M307.91 156.9L307.91 161.9M306.11 157.6L309.71 161.2M306.11 161.2L309.71 157.6" stroke="#3cb36e" stroke-width="0.65" fill="none"/>
<path d="M307.56 185.96L312.56 185.96M310.06 183.46L310.06 188.46M308.26 184.16L311.86 187.76M308.26 187.76L311.86 184.16" stroke="#3cb36e" stroke-width="0.65" fill="none"/>
<path d="M309.72 175.76L314.72 175.76M312.22 173.26L312.22 178.26M310.42 173.96L314.02 177.56M310.42 177.56L314.02 173.96" stroke="#3cb36e" stroke-width="0.65" fill="none"/>
<path d="M311.88 178.44L316.88 178.44M314.38 175.94L314.38 180.94M312.58 176.64L316.18 180.24M312.58 180.24L316.18 176.64" stroke="#3cb36e" stroke-width="0.65" fill="none"/>
<path d="M314.04 177.91L319.04 177.91M316.54 175.41L316.54 180.41M314.74 176.11L318.34 179.71M314.74 179.71L318.34 176.11" stroke="#3cb36e" stroke-width="0.65" fill="none"/>
<path d="M316.19 177.64L321.19 177.64M318.69 175.14L318.69 180.14M316.89 175.84L320.49 179.44M316.89 179.44L320.49 175.84" stroke="#3cb36e" stroke-width="0.65" fill="none"/>
<polyline points="200.06,121.3 202.21,97.69 204.37,87.76 206.53,64.42 208.69,60.13 210.84,55.03 213,50.2 215.16,49.13 217.31,46.98 219.47,50.2 221.63,62.01 223.78,70.33 225.94,64.69 228.1,59.06 230.25,59.06 232.41,59.59 234.57,61.47 236.73,66.03 238.88,71.4 241.04,74.62 243.2,79.98 245.35,80.52 247.51,89.64 249.67,88.84 251.82,94.47 253.98,95.81 256.14,99.57 258.3,102.79 260.45,108.42 262.61,110.84 264.77,110.3 266.92,105.74 269.08,106.28 271.24,108.42 273.39,111.1 275.55,111.37 277.71,111.37 279.87,110.84 282.02,115.13 284.18,121.3 286.34,120.76 288.49,119.42 290.65,117.01 292.81,111.37 294.97,107.62 297.12,108.69 299.28,112.71 301.44,122.91 303.59,126.13 305.75,128.81 307.91,132.03 310.06,138.74 312.22,144.91 314.38,151.88 316.54,155.1 318.69,171.2" fill="none" stroke="#555" stroke-width="0.9" stroke-linejoin="round"/>
<rect x="197.96" y="119.2" width="4.2" height="4.2" fill="#3d3d3d"/>
<rect x="200.11" y="95.59" width="4.2" height="4.2" fill="#3d3d3d"/>
<rect x="202.27" y="85.66" width="4.2" height="4.2" fill="#3d3d3d"/>
<rect x="204.43" y="62.32" width="4.2" height="4.2" fill="#3d3d3d"/>
<rect x="206.59" y="58.03" width="4.2" height="4.2" fill="#3d3d3d"/>
<rect x="208.74" y="52.93" width="4.2" height="4.2" fill="#3d3d3d"/>
<rect x="210.9" y="48.1" width="4.2" height="4.2" fill="#3d3d3d"/>
<rect x="213.06" y="47.03" width="4.2" height="4.2" fill="#3d3d3d"/>
<rect x="215.21" y="44.88" width="4.2" height="4.2" fill="#3d3d3d"/>
<rect x="217.37" y="48.1" width="4.2" height="4.2" fill="#3d3d3d"/>
<rect x="219.53" y="59.91" width="4.2" height="4.2" fill="#3d3d3d"/>
<rect x="221.68" y="68.23" width="4.2" height="4.2" fill="#3d3d3d"/>
<rect x="223.84" y="62.59" width="4.2" height="4.2" fill="#3d3d3d"/>
<rect x="226" y="56.96" width="4.2" height="4.2" fill="#3d3d3d"/>
<rect x="228.16" y="56.96" width="4.2" height="4.2" fill="#3d3d3d"/>
<rect x="230.31" y="57.49" width="4.2" height="4.2" fill="#3d3d3d"/>
<rect x="232.47" y="59.37" width="4.2" height="4.2" fill="#3d3d3d"/>
<rect x="234.63" y="63.93" width="4.2" height="4.2" fill="#3d3d3d"/>
<rect x="236.78" y="69.3" width="4.2" height="4.2" fill="#3d3d3d"/>
<rect x="238.94" y="72.52" width="4.2" height="4.2" fill="#3d3d3d"/>
<rect x="241.1" y="77.88" width="4.2" height="4.2" fill="#3d3d3d"/>
<rect x="243.25" y="78.42" width="4.2" height="4.2" fill="#3d3d3d"/>
<rect x="245.41" y="87.54" width="4.2" height="4.2" fill="#3d3d3d"/>
<rect x="247.57" y="86.74" width="4.2" height="4.2" fill="#3d3d3d"/>
<rect x="249.72" y="92.37" width="4.2" height="4.2" fill="#3d3d3d"/>
<rect x="251.88" y="93.71" width="4.2" height="4.2" fill="#3d3d3d"/>
<rect x="254.04" y="97.47" width="4.2" height="4.2" fill="#3d3d3d"/>
<rect x="256.2" y="100.69" width="4.2" height="4.2" fill="#3d3d3d"/>
<rect x="258.35" y="106.32" width="4.2" height="4.2" fill="#3d3d3d"/>
<rect x="260.51" y="108.74" width="4.2" height="4.2" fill="#3d3d3d"/>
<rect x="262.67" y="108.2" width="4.2" height="4.2" fill="#3d3d3d"/>
<rect x="264.82" y="103.64" width="4.2" height="4.2" fill="#3d3d3d"/>
<rect x="266.98" y="104.18" width="4.2" height="4.2" fill="#3d3d3d"/>
<rect x="269.14" y="106.32" width="4.2" height="4.2" fill="#3d3d3d"/>
<rect x="271.29" y="109" width="4.2" height="4.2" fill="#3d3d3d"/>
<rect x="273.45" y="109.27" width="4.2" height="4.2" fill="#3d3d3d"/>
<rect x="275.61" y="109.27" width="4.2" height="4.2" fill="#3d3d3d"/>
<rect x="277.77" y="108.74" width="4.2" height="4.2" fill="#3d3d3d"/>
<rect x="279.92" y="113.03" width="4.2" height="4.2" fill="#3d3d3d"/>
<rect x="282.08" y="119.2" width="4.2" height="4.2" fill="#3d3d3d"/>
<rect x="284.24" y="118.66" width="4.2" height="4.2" fill="#3d3d3d"/>
<rect x="286.39" y="117.32" width="4.2" height="4.2" fill="#3d3d3d"/>
<rect x="288.55" y="114.91" width="4.2" height="4.2" fill="#3d3d3d"/>
<rect x="290.71" y="109.27" width="4.2" height="4.2" fill="#3d3d3d"/>
<rect x="292.87" y="105.52" width="4.2" height="4.2" fill="#3d3d3d"/>
<rect x="295.02" y="106.59" width="4.2" height="4.2" fill="#3d3d3d"/>
<rect x="297.18" y="110.61" width="4.2" height="4.2" fill="#3d3d3d"/>
<rect x="299.34" y="120.81" width="4.2" height="4.2" fill="#3d3d3d"/>
<rect x="301.49" y="124.03" width="4.2" height="4.2" fill="#3d3d3d"/>
<rect x="303.65" y="126.71" width="4.2" height="4.2" fill="#3d3d3d"/>
<rect x="305.81" y="129.93" width="4.2" height="4.2" fill="#3d3d3d"/>
<rect x="307.96" y="136.64" width="4.2" height="4.2" fill="#3d3d3d"/>
<rect x="310.12" y="142.81" width="4.2" height="4.2" fill="#3d3d3d"/>
<rect x="312.28" y="149.78" width="4.2" height="4.2" fill="#3d3d3d"/>
<rect x="314.44" y="153" width="4.2" height="4.2" fill="#3d3d3d"/>
<rect x="316.59" y="169.1" width="4.2" height="4.2" fill="#3d3d3d"/>
<polyline points="200.06,115.67 202.21,91.52 204.37,78.11 206.53,61.47 208.69,53.96 210.84,49.13 213,43.5 215.16,37.59 217.31,32.5 219.47,30.62 221.63,29.81 223.78,29.81 225.94,30.62 228.1,35.72 230.25,37.06 232.41,38.67 234.57,28.74 236.73,29.55 238.88,32.77 241.04,37.06 243.2,39.47 245.35,43.23 247.51,52.89 249.67,58.25 251.82,57.72 253.98,56.64 256.14,58.79 258.3,57.72 260.45,57.72 262.61,57.72 264.77,61.74 266.92,64.69 269.08,66.84 271.24,69.52 273.39,70.86 275.55,68.18 277.71,77.03 279.87,83.2 282.02,90.18 284.18,92.06 286.34,100.1 288.49,88.84 290.65,83.2 292.81,82.67 294.97,87.23 297.12,91.52 299.28,106.81 301.44,113.25 303.59,114.59 305.75,110.84 307.91,118.88 310.06,129.08 312.22,139.54 314.38,148.66 316.54,153.23 318.69,170.13" fill="none" stroke="#f03a3a" stroke-width="0.9" stroke-linejoin="round"/>
<circle cx="200.06" cy="115.67" r="2.3" fill="#f03a3a"/>
<circle cx="202.21" cy="91.52" r="2.3" fill="#f03a3a"/>
<circle cx="204.37" cy="78.11" r="2.3" fill="#f03a3a"/>
<circle cx="206.53" cy="61.47" r="2.3" fill="#f03a3a"/>
<circle cx="208.69" cy="53.96" r="2.3" fill="#f03a3a"/>
<circle cx="210.84" cy="49.13" r="2.3" fill="#f03a3a"/>
<circle cx="213" cy="43.5" r="2.3" fill="#f03a3a"/>
<circle cx="215.16" cy="37.59" r="2.3" fill="#f03a3a"/>
<circle cx="217.31" cy="32.5" r="2.3" fill="#f03a3a"/>
<circle cx="219.47" cy="30.62" r="2.3" fill="#f03a3a"/>
<circle cx="221.63" cy="29.81" r="2.3" fill="#f03a3a"/>
<circle cx="223.78" cy="29.81" r="2.3" fill="#f03a3a"/>
<circle cx="225.94" cy="30.62" r="2.3" fill="#f03a3a"/>
<circle cx="228.1" cy="35.72" r="2.3" fill="#f03a3a"/>
<circle cx="230.25" cy="37.06" r="2.3" fill="#f03a3a"/>
<circle cx="232.41" cy="38.67" r="2.3" fill="#f03a3a"/>
<circle cx="234.57" cy="28.74" r="2.3" fill="#f03a3a"/>
<circle cx="236.73" cy="29.55" r="2.3" fill="#f03a3a"/>
<circle cx="238.88" cy="32.77" r="2.3" fill="#f03a3a"/>
<circle cx="241.04" cy="37.06" r="2.3" fill="#f03a3a"/>
<circle cx="243.2" cy="39.47" r="2.3" fill="#f03a3a"/>
<circle cx="245.35" cy="43.23" r="2.3" fill="#f03a3a"/>
<circle cx="247.51" cy="52.89" r="2.3" fill="#f03a3a"/>
<circle cx="249.67" cy="58.25" r="2.3" fill="#f03a3a"/>
<circle cx="251.82" cy="57.72" r="2.3" fill="#f03a3a"/>
<circle cx="253.98" cy="56.64" r="2.3" fill="#f03a3a"/>
<circle cx="256.14" cy="58.79" r="2.3" fill="#f03a3a"/>
<circle cx="258.3" cy="57.72" r="2.3" fill="#f03a3a"/>
<circle cx="260.45" cy="57.72" r="2.3" fill="#f03a3a"/>
<circle cx="262.61" cy="57.72" r="2.3" fill="#f03a3a"/>
<circle cx="264.77" cy="61.74" r="2.3" fill="#f03a3a"/>
<circle cx="266.92" cy="64.69" r="2.3" fill="#f03a3a"/>
<circle cx="269.08" cy="66.84" r="2.3" fill="#f03a3a"/>
<circle cx="271.24" cy="69.52" r="2.3" fill="#f03a3a"/>
<circle cx="273.39" cy="70.86" r="2.3" fill="#f03a3a"/>
<circle cx="275.55" cy="68.18" r="2.3" fill="#f03a3a"/>
<circle cx="277.71" cy="77.03" r="2.3" fill="#f03a3a"/>
<circle cx="279.87" cy="83.2" r="2.3" fill="#f03a3a"/>
<circle cx="282.02" cy="90.18" r="2.3" fill="#f03a3a"/>
<circle cx="284.18" cy="92.06" r="2.3" fill="#f03a3a"/>
<circle cx="286.34" cy="100.1" r="2.3" fill="#f03a3a"/>
<circle cx="288.49" cy="88.84" r="2.3" fill="#f03a3a"/>
<circle cx="290.65" cy="83.2" r="2.3" fill="#f03a3a"/>
<circle cx="292.81" cy="82.67" r="2.3" fill="#f03a3a"/>
<circle cx="294.97" cy="87.23" r="2.3" fill="#f03a3a"/>
<circle cx="297.12" cy="91.52" r="2.3" fill="#f03a3a"/>
<circle cx="299.28" cy="106.81" r="2.3" fill="#f03a3a"/>
<circle cx="301.44" cy="113.25" r="2.3" fill="#f03a3a"/>
<circle cx="303.59" cy="114.59" r="2.3" fill="#f03a3a"/>
<circle cx="305.75" cy="110.84" r="2.3" fill="#f03a3a"/>
<circle cx="307.91" cy="118.88" r="2.3" fill="#f03a3a"/>
<circle cx="310.06" cy="129.08" r="2.3" fill="#f03a3a"/>
<circle cx="312.22" cy="139.54" r="2.3" fill="#f03a3a"/>
<circle cx="314.38" cy="148.66" r="2.3" fill="#f03a3a"/>
<circle cx="316.54" cy="153.23" r="2.3" fill="#f03a3a"/>
<circle cx="318.69" cy="170.13" r="2.3" fill="#f03a3a"/>
<rect x="120.3" y="11" width="59.4" height="49.3" fill="#fff" stroke="#9a9a9a" stroke-width="0.9"/>
<line x1="121.8" y1="18.4" x2="143" y2="18.4" stroke="#666" stroke-width="1"/>
<rect x="130.4" y="16.4" width="4" height="4" fill="#3d3d3d"/>
<text x="145.6" y="21.69" font-size="9.4">CN15</text>
<line x1="121.8" y1="30.1" x2="143" y2="30.1" stroke="#f49a9a" stroke-width="1"/>
<circle cx="132.4" cy="30.1" r="2.2" fill="#f03a3a"/>
<text x="145.6" y="33.39" font-size="9.4">CN20</text>
<line x1="121.8" y1="41.6" x2="143" y2="41.6" stroke="#3a7ae6" stroke-width="1"/>
<path d="M129.9 43.45L134.9 43.45L132.4 39.34Z" fill="#1f63e0"/>
<text x="145.6" y="44.89" font-size="9.4">CN25</text>
<line x1="121.8" y1="53.2" x2="143" y2="53.2" stroke="#3cb36e" stroke-width="1"/>
<path d="M129.9 53.2L134.9 53.2M132.4 50.7L132.4 55.7M130.6 51.4L134.2 55M130.6 55L134.2 51.4" stroke="#3cb36e" stroke-width="0.65" fill="none"/>
<text x="145.6" y="56.49" font-size="9.4">Ambient</text>
<rect x="259.5" y="10.1" width="74.7" height="36.9" fill="#fff" stroke="#9a9a9a" stroke-width="0.9"/>
<line x1="261.4" y1="16.9" x2="282.4" y2="16.9" stroke="#666" stroke-width="1"/>
<rect x="269.1" y="14.9" width="4" height="4" fill="#3d3d3d"/>
<text x="284.8" y="20.17" font-size="9.35">Green Waste</text>
<line x1="261.4" y1="28.9" x2="282.4" y2="28.9" stroke="#f03a3a" stroke-width="1"/>
<circle cx="271.1" cy="28.9" r="2.2" fill="#f03a3a"/>
<text x="284.8" y="32.17" font-size="9.35">Straw</text>
<line x1="261.4" y1="40.5" x2="282.4" y2="40.5" stroke="#3cb36e" stroke-width="1"/>
<path d="M268.6 40.5L273.6 40.5M271.1 38L271.1 43M269.3 38.7L272.9 42.3M269.3 42.3L272.9 38.7" stroke="#3cb36e" stroke-width="0.65" fill="none"/>
<text x="284.8" y="43.77" font-size="9.35">Ambient</text>
<text x="187" y="219.8" text-anchor="middle" font-size="12.0">Composting time (days)</text>
<text transform="translate(14 94.5) rotate(-90)" text-anchor="middle" font-size="12">Temperature (°C)</text>
<text x="4" y="20" font-size="18.5">A</text>
<rect x="380.4" y="5.4" width="302.8" height="187.8" fill="none" stroke="#303030" stroke-width="1.1"/>
<line x1="531.9" y1="5.4" x2="531.9" y2="193.2" stroke="#303030" stroke-width="1.1"/>
<line x1="378.4" y1="177.55" x2="380.4" y2="177.55" stroke="#303030" stroke-width="1"/>
<line x1="378.4" y1="146.25" x2="380.4" y2="146.25" stroke="#303030" stroke-width="1"/>
<line x1="378.4" y1="114.95" x2="380.4" y2="114.95" stroke="#303030" stroke-width="1"/>
<line x1="378.4" y1="83.65" x2="380.4" y2="83.65" stroke="#303030" stroke-width="1"/>
<line x1="378.4" y1="52.35" x2="380.4" y2="52.35" stroke="#303030" stroke-width="1"/>
<line x1="378.4" y1="21.05" x2="380.4" y2="21.05" stroke="#303030" stroke-width="1"/>
<line x1="376.8" y1="193.2" x2="380.4" y2="193.2" stroke="#303030" stroke-width="1"/>
<text x="374.6" y="196.4" text-anchor="end" font-size="9.6">6.5</text>
<line x1="376.8" y1="161.9" x2="380.4" y2="161.9" stroke="#303030" stroke-width="1"/>
<text x="374.6" y="165.1" text-anchor="end" font-size="9.6">7.0</text>
<line x1="376.8" y1="130.6" x2="380.4" y2="130.6" stroke="#303030" stroke-width="1"/>
<text x="374.6" y="133.8" text-anchor="end" font-size="9.6">7.5</text>
<line x1="376.8" y1="99.3" x2="380.4" y2="99.3" stroke="#303030" stroke-width="1"/>
<text x="374.6" y="102.5" text-anchor="end" font-size="9.6">8.0</text>
<line x1="376.8" y1="68" x2="380.4" y2="68" stroke="#303030" stroke-width="1"/>
<text x="374.6" y="71.2" text-anchor="end" font-size="9.6">8.5</text>
<line x1="376.8" y1="36.7" x2="380.4" y2="36.7" stroke="#303030" stroke-width="1"/>
<text x="374.6" y="39.9" text-anchor="end" font-size="9.6">9.0</text>
<line x1="376.8" y1="5.4" x2="380.4" y2="5.4" stroke="#303030" stroke-width="1"/>
<text x="374.6" y="8.6" text-anchor="end" font-size="9.6">9.5</text>
<line x1="529.9" y1="177.55" x2="531.9" y2="177.55" stroke="#303030" stroke-width="1"/>
<line x1="529.9" y1="146.25" x2="531.9" y2="146.25" stroke="#303030" stroke-width="1"/>
<line x1="529.9" y1="114.95" x2="531.9" y2="114.95" stroke="#303030" stroke-width="1"/>
<line x1="529.9" y1="83.65" x2="531.9" y2="83.65" stroke="#303030" stroke-width="1"/>
<line x1="529.9" y1="52.35" x2="531.9" y2="52.35" stroke="#303030" stroke-width="1"/>
<line x1="529.9" y1="21.05" x2="531.9" y2="21.05" stroke="#303030" stroke-width="1"/>
<line x1="528.3" y1="193.2" x2="531.9" y2="193.2" stroke="#303030" stroke-width="1"/>
<line x1="528.3" y1="161.9" x2="531.9" y2="161.9" stroke="#303030" stroke-width="1"/>
<line x1="528.3" y1="130.6" x2="531.9" y2="130.6" stroke="#303030" stroke-width="1"/>
<line x1="528.3" y1="99.3" x2="531.9" y2="99.3" stroke="#303030" stroke-width="1"/>
<line x1="528.3" y1="68" x2="531.9" y2="68" stroke="#303030" stroke-width="1"/>
<line x1="528.3" y1="36.7" x2="531.9" y2="36.7" stroke="#303030" stroke-width="1"/>
<line x1="528.3" y1="5.4" x2="531.9" y2="5.4" stroke="#303030" stroke-width="1"/>
<line x1="380.6" y1="193.2" x2="380.6" y2="195.2" stroke="#303030" stroke-width="1"/>
<line x1="393.2" y1="193.2" x2="393.2" y2="196.8" stroke="#303030" stroke-width="1"/>
<text x="393.2" y="205.8" text-anchor="middle" font-size="9.6">0</text>
<line x1="405.8" y1="193.2" x2="405.8" y2="195.2" stroke="#303030" stroke-width="1"/>
<line x1="418.4" y1="193.2" x2="418.4" y2="196.8" stroke="#303030" stroke-width="1"/>
<text x="418.4" y="205.8" text-anchor="middle" font-size="9.6">10</text>
<line x1="431" y1="193.2" x2="431" y2="195.2" stroke="#303030" stroke-width="1"/>
<line x1="443.6" y1="193.2" x2="443.6" y2="196.8" stroke="#303030" stroke-width="1"/>
<text x="443.6" y="205.8" text-anchor="middle" font-size="9.6">20</text>
<line x1="456.2" y1="193.2" x2="456.2" y2="195.2" stroke="#303030" stroke-width="1"/>
<line x1="468.8" y1="193.2" x2="468.8" y2="196.8" stroke="#303030" stroke-width="1"/>
<text x="468.8" y="205.8" text-anchor="middle" font-size="9.6">30</text>
<line x1="481.4" y1="193.2" x2="481.4" y2="195.2" stroke="#303030" stroke-width="1"/>
<line x1="494" y1="193.2" x2="494" y2="196.8" stroke="#303030" stroke-width="1"/>
<text x="494" y="205.8" text-anchor="middle" font-size="9.6">40</text>
<line x1="506.6" y1="193.2" x2="506.6" y2="195.2" stroke="#303030" stroke-width="1"/>
<line x1="519.2" y1="193.2" x2="519.2" y2="196.8" stroke="#303030" stroke-width="1"/>
<text x="519.2" y="205.8" text-anchor="middle" font-size="9.6">50</text>
<line x1="531.8" y1="193.2" x2="531.8" y2="195.2" stroke="#303030" stroke-width="1"/>
<line x1="531.78" y1="193.2" x2="531.78" y2="195.2" stroke="#303030" stroke-width="1"/>
<line x1="542.6" y1="193.2" x2="542.6" y2="196.8" stroke="#303030" stroke-width="1"/>
<text x="542.6" y="205.8" text-anchor="middle" font-size="9.6">0</text>
<line x1="553.42" y1="193.2" x2="553.42" y2="195.2" stroke="#303030" stroke-width="1"/>
<line x1="564.23" y1="193.2" x2="564.23" y2="196.8" stroke="#303030" stroke-width="1"/>
<text x="564.23" y="205.8" text-anchor="middle" font-size="9.6">10</text>
<line x1="575.05" y1="193.2" x2="575.05" y2="195.2" stroke="#303030" stroke-width="1"/>
<line x1="585.86" y1="193.2" x2="585.86" y2="196.8" stroke="#303030" stroke-width="1"/>
<text x="585.86" y="205.8" text-anchor="middle" font-size="9.6">20</text>
<line x1="596.68" y1="193.2" x2="596.68" y2="195.2" stroke="#303030" stroke-width="1"/>
<line x1="607.49" y1="193.2" x2="607.49" y2="196.8" stroke="#303030" stroke-width="1"/>
<text x="607.49" y="205.8" text-anchor="middle" font-size="9.6">30</text>
<line x1="618.31" y1="193.2" x2="618.31" y2="195.2" stroke="#303030" stroke-width="1"/>
<line x1="629.12" y1="193.2" x2="629.12" y2="196.8" stroke="#303030" stroke-width="1"/>
<text x="629.12" y="205.8" text-anchor="middle" font-size="9.6">40</text>
<line x1="639.94" y1="193.2" x2="639.94" y2="195.2" stroke="#303030" stroke-width="1"/>
<line x1="650.75" y1="193.2" x2="650.75" y2="196.8" stroke="#303030" stroke-width="1"/>
<text x="650.75" y="205.8" text-anchor="middle" font-size="9.6">50</text>
<line x1="661.57" y1="193.2" x2="661.57" y2="195.2" stroke="#303030" stroke-width="1"/>
<line x1="672.38" y1="193.2" x2="672.38" y2="196.8" stroke="#303030" stroke-width="1"/>
<text x="672.38" y="205.8" text-anchor="middle" font-size="9.6">60</text>
<line x1="683.2" y1="193.2" x2="683.2" y2="195.2" stroke="#303030" stroke-width="1"/>
<polyline points="395.72,173.17 410.84,161.27 431,143.12 451.16,105.56 471.32,116.83 491.48,128.72 516.68,121.84" fill="none" stroke="#000" stroke-width="0.9" stroke-linejoin="round"/>
<rect x="393.92" y="171.37" width="3.6" height="3.6" fill="#000"/>
<rect x="409.04" y="159.47" width="3.6" height="3.6" fill="#000"/>
<rect x="429.2" y="141.32" width="3.6" height="3.6" fill="#000"/>
<rect x="449.36" y="103.76" width="3.6" height="3.6" fill="#000"/>
<rect x="469.52" y="115.03" width="3.6" height="3.6" fill="#000"/>
<rect x="489.68" y="126.92" width="3.6" height="3.6" fill="#000"/>
<rect x="514.88" y="120.04" width="3.6" height="3.6" fill="#000"/>
<polyline points="395.72,157.52 410.84,156.89 431,152.51 451.16,140.62 471.32,91.79 491.48,73.63 516.68,76.14" fill="none" stroke="#f03a3a" stroke-width="0.7" stroke-linejoin="round"/>
<circle cx="395.72" cy="157.52" r="2.2" fill="#f03a3a"/>
<circle cx="410.84" cy="156.89" r="2.2" fill="#f03a3a"/>
<circle cx="431" cy="152.51" r="2.2" fill="#f03a3a"/>
<circle cx="451.16" cy="140.62" r="2.2" fill="#f03a3a"/>
<circle cx="471.32" cy="91.79" r="2.2" fill="#f03a3a"/>
<circle cx="491.48" cy="73.63" r="2.2" fill="#f03a3a"/>
<circle cx="516.68" cy="76.14" r="2.2" fill="#f03a3a"/>
<polyline points="395.72,149.38 410.84,142.49 431,126.84 451.16,76.14 471.32,54.85 491.48,56.11 516.68,62.99" fill="none" stroke="#1f63e0" stroke-width="0.8" stroke-linejoin="round"/>
<path d="M392.92 151.45L398.52 151.45L395.72 146.85Z" fill="#1f63e0"/>
<path d="M408.04 144.56L413.64 144.56L410.84 139.97Z" fill="#1f63e0"/>
<path d="M428.2 128.91L433.8 128.91L431 124.32Z" fill="#1f63e0"/>
<path d="M448.36 78.2L453.96 78.2L451.16 73.61Z" fill="#1f63e0"/>
<path d="M468.52 56.92L474.12 56.92L471.32 52.33Z" fill="#1f63e0"/>
<path d="M488.68 58.17L494.28 58.17L491.48 53.58Z" fill="#1f63e0"/>
<path d="M513.88 65.06L519.48 65.06L516.68 60.47Z" fill="#1f63e0"/>
<text x="402.02" y="176.37" text-anchor="middle" font-size="10.8">c</text>
<text x="417.14" y="164.87" text-anchor="middle" font-size="10.8">b</text>
<text x="437.3" y="146.72" text-anchor="middle" font-size="10.8">b</text>
<text x="457.46" y="109.16" text-anchor="middle" font-size="10.8">b</text>
<text x="477.62" y="120.03" text-anchor="middle" font-size="10.8">c</text>
<text x="497.78" y="131.92" text-anchor="middle" font-size="10.8">c</text>
<text x="522.98" y="125.04" text-anchor="middle" font-size="10.8">c</text>
<text x="401.32" y="160.22" text-anchor="middle" font-size="10.8">b</text>
<text x="416.04" y="158.49" text-anchor="middle" font-size="10.8">b</text>
<text x="435.8" y="154.81" text-anchor="middle" font-size="10.8">c</text>
<text x="456.56" y="142.62" text-anchor="middle" font-size="10.8">c</text>
<text x="476.32" y="94.89" text-anchor="middle" font-size="10.8">b</text>
<text x="497.48" y="76.03" text-anchor="middle" font-size="10.8">b</text>
<text x="522.68" y="78.54" text-anchor="middle" font-size="10.8">b</text>
<text x="399.42" y="147.88" text-anchor="middle" font-size="10.8">a</text>
<text x="414.54" y="140.99" text-anchor="middle" font-size="10.8">a</text>
<text x="434.7" y="125.34" text-anchor="middle" font-size="10.8">a</text>
<text x="454.86" y="74.64" text-anchor="middle" font-size="10.8">a</text>
<text x="475.02" y="53.35" text-anchor="middle" font-size="10.8">a</text>
<text x="495.18" y="54.61" text-anchor="middle" font-size="10.8">a</text>
<text x="520.38" y="61.49" text-anchor="middle" font-size="10.8">a</text>
<polyline points="544.76,128.1 559.9,99.3 577.21,92.41 601,94.92 613.98,66.75 631.28,72.38 663.73,84.9" fill="none" stroke="#000" stroke-width="0.9" stroke-linejoin="round"/>
<rect x="542.96" y="126.3" width="3.6" height="3.6" fill="#000"/>
<rect x="558.1" y="97.5" width="3.6" height="3.6" fill="#000"/>
<rect x="575.41" y="90.61" width="3.6" height="3.6" fill="#000"/>
<rect x="599.2" y="93.12" width="3.6" height="3.6" fill="#000"/>
<rect x="612.18" y="64.95" width="3.6" height="3.6" fill="#000"/>
<rect x="629.48" y="70.58" width="3.6" height="3.6" fill="#000"/>
<rect x="661.93" y="83.1" width="3.6" height="3.6" fill="#000"/>
<polyline points="544.76,109.32 559.9,87.41 577.21,88.03 601,111.82 613.98,59.24 631.28,36.07 663.73,39.83" fill="none" stroke="#f03a3a" stroke-width="0.7" stroke-linejoin="round"/>
<circle cx="544.76" cy="109.32" r="2.2" fill="#f03a3a"/>
<circle cx="559.9" cy="87.41" r="2.2" fill="#f03a3a"/>
<circle cx="577.21" cy="88.03" r="2.2" fill="#f03a3a"/>
<circle cx="601" cy="111.82" r="2.2" fill="#f03a3a"/>
<circle cx="613.98" cy="59.24" r="2.2" fill="#f03a3a"/>
<circle cx="631.28" cy="36.07" r="2.2" fill="#f03a3a"/>
<circle cx="663.73" cy="39.83" r="2.2" fill="#f03a3a"/>
<text x="550.56" y="131.2" text-anchor="middle" font-size="10.8">b</text>
<text x="565.7" y="102.4" text-anchor="middle" font-size="10.8">b</text>
<text x="583.01" y="95.11" text-anchor="middle" font-size="10.8">a</text>
<text x="606.8" y="97.62" text-anchor="middle" font-size="10.8">a</text>
<text x="619.78" y="69.85" text-anchor="middle" font-size="10.8">b</text>
<text x="637.08" y="75.48" text-anchor="middle" font-size="10.8">b</text>
<text x="669.53" y="88" text-anchor="middle" font-size="10.8">b</text>
<text x="549.46" y="108.42" text-anchor="middle" font-size="10.8">a</text>
<text x="564.6" y="86.51" text-anchor="middle" font-size="10.8">a</text>
<text x="581.91" y="87.13" text-anchor="middle" font-size="10.8">a</text>
<text x="605.7" y="111.32" text-anchor="middle" font-size="10.8">b</text>
<text x="618.68" y="58.34" text-anchor="middle" font-size="10.8">a</text>
<text x="635.98" y="35.17" text-anchor="middle" font-size="10.8">a</text>
<text x="668.43" y="38.93" text-anchor="middle" font-size="10.8">a</text>
<rect x="387.1" y="10.5" width="56.5" height="43" fill="#fff" stroke="#9a9a9a" stroke-width="0.9"/>
<line x1="388.7" y1="18.2" x2="413.4" y2="18.2" stroke="#000" stroke-width="1"/>
<rect x="398.9" y="16.3" width="3.8" height="3.8" fill="#000"/>
<text x="416.2" y="21.98" font-size="10.8">CN15</text>
<line x1="388.7" y1="31.9" x2="413.4" y2="31.9" stroke="#f49a9a" stroke-width="1"/>
<circle cx="400.8" cy="31.9" r="2.2" fill="#f03a3a"/>
<text x="416.2" y="35.68" font-size="10.8">CN20</text>
<line x1="388.7" y1="45.2" x2="413.4" y2="45.2" stroke="#3a7ae6" stroke-width="1"/>
<path d="M398.2 47.12L403.4 47.12L400.8 42.85Z" fill="#1f63e0"/>
<text x="416.2" y="48.98" font-size="10.8">CN25</text>
<rect x="536.8" y="9.1" width="86.4" height="28.4" fill="#fff" stroke="#9a9a9a" stroke-width="0.9"/>
<line x1="538.6" y1="16.4" x2="563.6" y2="16.4" stroke="#000" stroke-width="1"/>
<rect x="549" y="14.5" width="3.8" height="3.8" fill="#000"/>
<text x="565.9" y="20.18" font-size="10.8">Green Waste</text>
<line x1="538.6" y1="30" x2="563.6" y2="30" stroke="#f03a3a" stroke-width="1"/>
<circle cx="550.9" cy="30" r="2.2" fill="#f03a3a"/>
<text x="565.9" y="33.78" font-size="10.8">Straw</text>
<text x="531.5" y="219.8" text-anchor="middle" font-size="12.0">Composting time (days)</text>
<text transform="translate(355.7 98) rotate(-90)" text-anchor="middle" font-size="12">pH</text>
<text x="348" y="16" font-size="18.5">B</text>
<rect x="35.4" y="229.4" width="303.1" height="187.9" fill="none" stroke="#303030" stroke-width="1.1"/>
<line x1="187.1" y1="229.4" x2="187.1" y2="417.3" stroke="#303030" stroke-width="1.1"/>
<line x1="33.4" y1="417.3" x2="35.4" y2="417.3" stroke="#303030" stroke-width="1"/>
<line x1="33.4" y1="388.39" x2="35.4" y2="388.39" stroke="#303030" stroke-width="1"/>
<line x1="33.4" y1="359.48" x2="35.4" y2="359.48" stroke="#303030" stroke-width="1"/>
<line x1="33.4" y1="330.58" x2="35.4" y2="330.58" stroke="#303030" stroke-width="1"/>
<line x1="33.4" y1="301.67" x2="35.4" y2="301.67" stroke="#303030" stroke-width="1"/>
<line x1="33.4" y1="272.76" x2="35.4" y2="272.76" stroke="#303030" stroke-width="1"/>
<line x1="33.4" y1="243.85" x2="35.4" y2="243.85" stroke="#303030" stroke-width="1"/>
<line x1="31.8" y1="402.85" x2="35.4" y2="402.85" stroke="#303030" stroke-width="1"/>
<text x="29.6" y="406.05" text-anchor="end" font-size="9.6">1.6</text>
<line x1="31.8" y1="373.94" x2="35.4" y2="373.94" stroke="#303030" stroke-width="1"/>
<text x="29.6" y="377.14" text-anchor="end" font-size="9.6">2.0</text>
<line x1="31.8" y1="345.03" x2="35.4" y2="345.03" stroke="#303030" stroke-width="1"/>
<text x="29.6" y="348.23" text-anchor="end" font-size="9.6">2.4</text>
<line x1="31.8" y1="316.12" x2="35.4" y2="316.12" stroke="#303030" stroke-width="1"/>
<text x="29.6" y="319.32" text-anchor="end" font-size="9.6">2.8</text>
<line x1="31.8" y1="287.22" x2="35.4" y2="287.22" stroke="#303030" stroke-width="1"/>
<text x="29.6" y="290.42" text-anchor="end" font-size="9.6">3.2</text>
<line x1="31.8" y1="258.31" x2="35.4" y2="258.31" stroke="#303030" stroke-width="1"/>
<text x="29.6" y="261.51" text-anchor="end" font-size="9.6">3.6</text>
<line x1="31.8" y1="229.4" x2="35.4" y2="229.4" stroke="#303030" stroke-width="1"/>
<text x="29.6" y="232.6" text-anchor="end" font-size="9.6">4.0</text>
<line x1="185.1" y1="417.3" x2="187.1" y2="417.3" stroke="#303030" stroke-width="1"/>
<line x1="185.1" y1="388.39" x2="187.1" y2="388.39" stroke="#303030" stroke-width="1"/>
<line x1="185.1" y1="359.48" x2="187.1" y2="359.48" stroke="#303030" stroke-width="1"/>
<line x1="185.1" y1="330.58" x2="187.1" y2="330.58" stroke="#303030" stroke-width="1"/>
<line x1="185.1" y1="301.67" x2="187.1" y2="301.67" stroke="#303030" stroke-width="1"/>
<line x1="185.1" y1="272.76" x2="187.1" y2="272.76" stroke="#303030" stroke-width="1"/>
<line x1="185.1" y1="243.85" x2="187.1" y2="243.85" stroke="#303030" stroke-width="1"/>
<line x1="183.5" y1="402.85" x2="187.1" y2="402.85" stroke="#303030" stroke-width="1"/>
<line x1="183.5" y1="373.94" x2="187.1" y2="373.94" stroke="#303030" stroke-width="1"/>
<line x1="183.5" y1="345.03" x2="187.1" y2="345.03" stroke="#303030" stroke-width="1"/>
<line x1="183.5" y1="316.12" x2="187.1" y2="316.12" stroke="#303030" stroke-width="1"/>
<line x1="183.5" y1="287.22" x2="187.1" y2="287.22" stroke="#303030" stroke-width="1"/>
<line x1="183.5" y1="258.31" x2="187.1" y2="258.31" stroke="#303030" stroke-width="1"/>
<line x1="183.5" y1="229.4" x2="187.1" y2="229.4" stroke="#303030" stroke-width="1"/>
<line x1="35.4" y1="417.3" x2="35.4" y2="419.3" stroke="#303030" stroke-width="1"/>
<line x1="48.04" y1="417.3" x2="48.04" y2="420.9" stroke="#303030" stroke-width="1"/>
<text x="48.04" y="429.9" text-anchor="middle" font-size="9.6">0</text>
<line x1="60.68" y1="417.3" x2="60.68" y2="419.3" stroke="#303030" stroke-width="1"/>
<line x1="73.32" y1="417.3" x2="73.32" y2="420.9" stroke="#303030" stroke-width="1"/>
<text x="73.32" y="429.9" text-anchor="middle" font-size="9.6">10</text>
<line x1="85.96" y1="417.3" x2="85.96" y2="419.3" stroke="#303030" stroke-width="1"/>
<line x1="98.6" y1="417.3" x2="98.6" y2="420.9" stroke="#303030" stroke-width="1"/>
<text x="98.6" y="429.9" text-anchor="middle" font-size="9.6">20</text>
<line x1="111.24" y1="417.3" x2="111.24" y2="419.3" stroke="#303030" stroke-width="1"/>
<line x1="123.88" y1="417.3" x2="123.88" y2="420.9" stroke="#303030" stroke-width="1"/>
<text x="123.88" y="429.9" text-anchor="middle" font-size="9.6">30</text>
<line x1="136.52" y1="417.3" x2="136.52" y2="419.3" stroke="#303030" stroke-width="1"/>
<line x1="149.16" y1="417.3" x2="149.16" y2="420.9" stroke="#303030" stroke-width="1"/>
<text x="149.16" y="429.9" text-anchor="middle" font-size="9.6">40</text>
<line x1="161.8" y1="417.3" x2="161.8" y2="419.3" stroke="#303030" stroke-width="1"/>
<line x1="174.44" y1="417.3" x2="174.44" y2="420.9" stroke="#303030" stroke-width="1"/>
<text x="174.44" y="429.9" text-anchor="middle" font-size="9.6">50</text>
<line x1="187.08" y1="417.3" x2="187.08" y2="419.3" stroke="#303030" stroke-width="1"/>
<line x1="187.12" y1="417.3" x2="187.12" y2="419.3" stroke="#303030" stroke-width="1"/>
<line x1="197.9" y1="417.3" x2="197.9" y2="420.9" stroke="#303030" stroke-width="1"/>
<text x="197.9" y="429.9" text-anchor="middle" font-size="9.6">0</text>
<line x1="208.69" y1="417.3" x2="208.69" y2="419.3" stroke="#303030" stroke-width="1"/>
<line x1="219.47" y1="417.3" x2="219.47" y2="420.9" stroke="#303030" stroke-width="1"/>
<text x="219.47" y="429.9" text-anchor="middle" font-size="9.6">10</text>
<line x1="230.25" y1="417.3" x2="230.25" y2="419.3" stroke="#303030" stroke-width="1"/>
<line x1="241.04" y1="417.3" x2="241.04" y2="420.9" stroke="#303030" stroke-width="1"/>
<text x="241.04" y="429.9" text-anchor="middle" font-size="9.6">20</text>
<line x1="251.82" y1="417.3" x2="251.82" y2="419.3" stroke="#303030" stroke-width="1"/>
<line x1="262.61" y1="417.3" x2="262.61" y2="420.9" stroke="#303030" stroke-width="1"/>
<text x="262.61" y="429.9" text-anchor="middle" font-size="9.6">30</text>
<line x1="273.39" y1="417.3" x2="273.39" y2="419.3" stroke="#303030" stroke-width="1"/>
<line x1="284.18" y1="417.3" x2="284.18" y2="420.9" stroke="#303030" stroke-width="1"/>
<text x="284.18" y="429.9" text-anchor="middle" font-size="9.6">40</text>
<line x1="294.97" y1="417.3" x2="294.97" y2="419.3" stroke="#303030" stroke-width="1"/>
<line x1="305.75" y1="417.3" x2="305.75" y2="420.9" stroke="#303030" stroke-width="1"/>
<text x="305.75" y="429.9" text-anchor="middle" font-size="9.6">50</text>
<line x1="316.54" y1="417.3" x2="316.54" y2="419.3" stroke="#303030" stroke-width="1"/>
<line x1="327.32" y1="417.3" x2="327.32" y2="420.9" stroke="#303030" stroke-width="1"/>
<text x="327.32" y="429.9" text-anchor="middle" font-size="9.6">60</text>
<line x1="338.11" y1="417.3" x2="338.11" y2="419.3" stroke="#303030" stroke-width="1"/>
<path d="M106.18 343.59V350.81M104.38 343.59H107.98M104.38 350.81H107.98" stroke="#000" stroke-width="0.7" fill="none"/>
<path d="M171.91 339.25V346.48M170.11 339.25H173.71M170.11 346.48H173.71" stroke="#000" stroke-width="0.7" fill="none"/>
<path d="M106.18 308.17V315.4M104.38 308.17H107.98M104.38 315.4H107.98" stroke="#1f63e0" stroke-width="0.7" fill="none"/>
<path d="M126.41 282.16V287.94M124.61 282.16H128.21M124.61 287.94H128.21" stroke="#1f63e0" stroke-width="0.7" fill="none"/>
<path d="M171.91 266.98V272.76M170.11 266.98H173.71M170.11 272.76H173.71" stroke="#1f63e0" stroke-width="0.7" fill="none"/>
<polyline points="50.57,309.62 65.74,347.92 85.96,338.53 106.18,347.2 126.41,349.37 146.63,359.48 171.91,342.86" fill="none" stroke="#000" stroke-width="0.9" stroke-linejoin="round"/>
<rect x="48.77" y="307.82" width="3.6" height="3.6" fill="#000"/>
<rect x="63.94" y="346.12" width="3.6" height="3.6" fill="#000"/>
<rect x="84.16" y="336.73" width="3.6" height="3.6" fill="#000"/>
<rect x="104.38" y="345.4" width="3.6" height="3.6" fill="#000"/>
<rect x="124.61" y="347.57" width="3.6" height="3.6" fill="#000"/>
<rect x="144.83" y="357.68" width="3.6" height="3.6" fill="#000"/>
<rect x="170.11" y="341.06" width="3.6" height="3.6" fill="#000"/>
<polyline points="50.57,263.37 65.74,246.02 85.96,251.8 106.18,253.25 126.41,244.58 146.63,264.81 171.91,266.26" fill="none" stroke="#f03a3a" stroke-width="0.7" stroke-linejoin="round"/>
<circle cx="50.57" cy="263.37" r="2.2" fill="#f03a3a"/>
<circle cx="65.74" cy="246.02" r="2.2" fill="#f03a3a"/>
<circle cx="85.96" cy="251.8" r="2.2" fill="#f03a3a"/>
<circle cx="106.18" cy="253.25" r="2.2" fill="#f03a3a"/>
<circle cx="126.41" cy="244.58" r="2.2" fill="#f03a3a"/>
<circle cx="146.63" cy="264.81" r="2.2" fill="#f03a3a"/>
<circle cx="171.91" cy="266.26" r="2.2" fill="#f03a3a"/>
<polyline points="50.57,277.1 65.74,293 85.96,282.16 106.18,311.79 126.41,285.05 146.63,285.77 171.91,269.87" fill="none" stroke="#1f63e0" stroke-width="0.8" stroke-linejoin="round"/>
<path d="M47.77 279.16L53.37 279.16L50.57 274.57Z" fill="#1f63e0"/>
<path d="M62.94 295.06L68.54 295.06L65.74 290.47Z" fill="#1f63e0"/>
<path d="M83.16 284.22L88.76 284.22L85.96 279.63Z" fill="#1f63e0"/>
<path d="M103.38 313.85L108.98 313.85L106.18 309.26Z" fill="#1f63e0"/>
<path d="M123.61 287.11L129.21 287.11L126.41 282.52Z" fill="#1f63e0"/>
<path d="M143.83 287.84L149.43 287.84L146.63 283.24Z" fill="#1f63e0"/>
<path d="M169.11 271.94L174.71 271.94L171.91 267.35Z" fill="#1f63e0"/>
<text x="56.47" y="310.92" text-anchor="middle" font-size="10.8">c</text>
<text x="70.84" y="349.12" text-anchor="middle" font-size="10.8">c</text>
<text x="91.06" y="339.73" text-anchor="middle" font-size="10.8">c</text>
<text x="111.38" y="348.4" text-anchor="middle" font-size="10.8">c</text>
<text x="131.61" y="350.57" text-anchor="middle" font-size="10.8">c</text>
<text x="151.83" y="360.68" text-anchor="middle" font-size="10.8">c</text>
<text x="177.41" y="343.86" text-anchor="middle" font-size="10.8">b</text>
<text x="54.97" y="266.07" text-anchor="middle" font-size="10.8">a</text>
<text x="70.14" y="248.72" text-anchor="middle" font-size="10.8">a</text>
<text x="90.36" y="254.5" text-anchor="middle" font-size="10.8">a</text>
<text x="110.58" y="255.95" text-anchor="middle" font-size="10.8">a</text>
<text x="130.81" y="247.28" text-anchor="middle" font-size="10.8">a</text>
<text x="151.03" y="267.51" text-anchor="middle" font-size="10.8">a</text>
<text x="176.31" y="268.96" text-anchor="middle" font-size="10.8">a</text>
<text x="54.97" y="284.1" text-anchor="middle" font-size="10.8">b</text>
<text x="70.44" y="300.5" text-anchor="middle" font-size="10.8">b</text>
<text x="90.76" y="288.96" text-anchor="middle" font-size="10.8">b</text>
<text x="110.88" y="319.29" text-anchor="middle" font-size="10.8">b</text>
<text x="131.11" y="291.85" text-anchor="middle" font-size="10.8">b</text>
<text x="151.43" y="292.57" text-anchor="middle" font-size="10.8">b</text>
<text x="176.31" y="277.77" text-anchor="middle" font-size="10.8">a</text>
<path d="M256.14 335.64V341.42M254.34 335.64H257.94M254.34 341.42H257.94" stroke="#f03a3a" stroke-width="0.7" fill="none"/>
<path d="M286.34 340.69V346.48M284.54 340.69H288.14M284.54 346.48H288.14" stroke="#f03a3a" stroke-width="0.7" fill="none"/>
<polyline points="200.06,379.72 215.16,394.17 232.41,402.85 256.14,383.33 269.08,407.18 286.34,399.96 318.69,381.89" fill="none" stroke="#000" stroke-width="0.9" stroke-linejoin="round"/>
<rect x="198.26" y="377.92" width="3.6" height="3.6" fill="#000"/>
<rect x="213.36" y="392.37" width="3.6" height="3.6" fill="#000"/>
<rect x="230.61" y="401.05" width="3.6" height="3.6" fill="#000"/>
<rect x="254.34" y="381.53" width="3.6" height="3.6" fill="#000"/>
<rect x="267.28" y="405.38" width="3.6" height="3.6" fill="#000"/>
<rect x="284.54" y="398.16" width="3.6" height="3.6" fill="#000"/>
<rect x="316.89" y="380.09" width="3.6" height="3.6" fill="#000"/>
<polyline points="200.06,362.38 215.16,368.88 232.41,368.88 256.14,338.53 269.08,340.69 286.34,343.59 318.69,338.53" fill="none" stroke="#f03a3a" stroke-width="0.7" stroke-linejoin="round"/>
<circle cx="200.06" cy="362.38" r="2.2" fill="#f03a3a"/>
<circle cx="215.16" cy="368.88" r="2.2" fill="#f03a3a"/>
<circle cx="232.41" cy="368.88" r="2.2" fill="#f03a3a"/>
<circle cx="256.14" cy="338.53" r="2.2" fill="#f03a3a"/>
<circle cx="269.08" cy="340.69" r="2.2" fill="#f03a3a"/>
<circle cx="286.34" cy="343.59" r="2.2" fill="#f03a3a"/>
<circle cx="318.69" cy="338.53" r="2.2" fill="#f03a3a"/>
<text x="206.06" y="383.52" text-anchor="middle" font-size="10.8">b</text>
<text x="221.16" y="397.97" text-anchor="middle" font-size="10.8">b</text>
<text x="238.41" y="406.65" text-anchor="middle" font-size="10.8">b</text>
<text x="262.14" y="387.13" text-anchor="middle" font-size="10.8">b</text>
<text x="275.08" y="410.98" text-anchor="middle" font-size="10.8">b</text>
<text x="292.34" y="403.76" text-anchor="middle" font-size="10.8">b</text>
<text x="324.69" y="385.69" text-anchor="middle" font-size="10.8">b</text>
<text x="205.36" y="360.48" text-anchor="middle" font-size="10.8">a</text>
<text x="220.46" y="366.98" text-anchor="middle" font-size="10.8">a</text>
<text x="237.71" y="366.98" text-anchor="middle" font-size="10.8">a</text>
<text x="261.44" y="336.63" text-anchor="middle" font-size="10.8">a</text>
<text x="274.38" y="338.79" text-anchor="middle" font-size="10.8">a</text>
<text x="291.64" y="341.69" text-anchor="middle" font-size="10.8">a</text>
<text x="323.99" y="336.63" text-anchor="middle" font-size="10.8">a</text>
<rect x="42.5" y="368.2" width="56.5" height="42" fill="#fff" stroke="#9a9a9a" stroke-width="0.9"/>
<line x1="44.3" y1="375.9" x2="69" y2="375.9" stroke="#777" stroke-width="1"/>
<rect x="54.6" y="374" width="3.8" height="3.8" fill="#000"/>
<text x="71.9" y="379.57" font-size="10.5">CN15</text>
<line x1="44.3" y1="389.4" x2="69" y2="389.4" stroke="#f03a3a" stroke-width="1"/>
<circle cx="56.5" cy="389.4" r="2.2" fill="#f03a3a"/>
<text x="71.9" y="393.07" font-size="10.5">CN20</text>
<line x1="44.3" y1="403.1" x2="69" y2="403.1" stroke="#8fb4f0" stroke-width="1"/>
<path d="M53.9 405.02L59.1 405.02L56.5 400.75Z" fill="#1f63e0"/>
<text x="71.9" y="406.78" font-size="10.5">CN25</text>
<rect x="193.7" y="235.7" width="86.7" height="29" fill="#fff" stroke="#9a9a9a" stroke-width="0.9"/>
<line x1="195.5" y1="243.7" x2="219.6" y2="243.7" stroke="#000" stroke-width="1"/>
<rect x="205.8" y="241.8" width="3.8" height="3.8" fill="#000"/>
<text x="222.9" y="247.48" font-size="10.8">Green Waste</text>
<line x1="195.5" y1="257.2" x2="219.6" y2="257.2" stroke="#f03a3a" stroke-width="1"/>
<circle cx="207.7" cy="257.2" r="2.2" fill="#f03a3a"/>
<text x="222.9" y="260.98" font-size="10.8">Straw</text>
<text x="187.4" y="443.7" text-anchor="middle" font-size="12.0">Composting time (days)</text>
<text transform="translate(12.2 322.6) rotate(-90)" text-anchor="middle" font-size="12">Electrical conductivity (dS·m<tspan font-size="8" dy="-4">-1</tspan><tspan dy="4">)</tspan></text>
<text x="1.5" y="234.2" font-size="19.5">C</text>
<rect x="380.4" y="229.4" width="302.8" height="187.9" fill="none" stroke="#303030" stroke-width="1.1"/>
<line x1="531.9" y1="229.4" x2="531.9" y2="417.3" stroke="#303030" stroke-width="1.1"/>
<line x1="378.4" y1="406.86" x2="380.4" y2="406.86" stroke="#303030" stroke-width="1"/>
<line x1="378.4" y1="385.98" x2="380.4" y2="385.98" stroke="#303030" stroke-width="1"/>
<line x1="378.4" y1="365.11" x2="380.4" y2="365.11" stroke="#303030" stroke-width="1"/>
<line x1="378.4" y1="344.23" x2="380.4" y2="344.23" stroke="#303030" stroke-width="1"/>
<line x1="378.4" y1="323.35" x2="380.4" y2="323.35" stroke="#303030" stroke-width="1"/>
<line x1="378.4" y1="302.47" x2="380.4" y2="302.47" stroke="#303030" stroke-width="1"/>
<line x1="378.4" y1="281.59" x2="380.4" y2="281.59" stroke="#303030" stroke-width="1"/>
<line x1="378.4" y1="260.72" x2="380.4" y2="260.72" stroke="#303030" stroke-width="1"/>
<line x1="378.4" y1="239.84" x2="380.4" y2="239.84" stroke="#303030" stroke-width="1"/>
<line x1="376.8" y1="417.3" x2="380.4" y2="417.3" stroke="#303030" stroke-width="1"/>
<text x="374.6" y="420.5" text-anchor="end" font-size="9.6">20</text>
<line x1="376.8" y1="396.42" x2="380.4" y2="396.42" stroke="#303030" stroke-width="1"/>
<text x="374.6" y="399.62" text-anchor="end" font-size="9.6">25</text>
<line x1="376.8" y1="375.54" x2="380.4" y2="375.54" stroke="#303030" stroke-width="1"/>
<text x="374.6" y="378.74" text-anchor="end" font-size="9.6">30</text>
<line x1="376.8" y1="354.67" x2="380.4" y2="354.67" stroke="#303030" stroke-width="1"/>
<text x="374.6" y="357.87" text-anchor="end" font-size="9.6">35</text>
<line x1="376.8" y1="333.79" x2="380.4" y2="333.79" stroke="#303030" stroke-width="1"/>
<text x="374.6" y="336.99" text-anchor="end" font-size="9.6">40</text>
<line x1="376.8" y1="312.91" x2="380.4" y2="312.91" stroke="#303030" stroke-width="1"/>
<text x="374.6" y="316.11" text-anchor="end" font-size="9.6">45</text>
<line x1="376.8" y1="292.03" x2="380.4" y2="292.03" stroke="#303030" stroke-width="1"/>
<text x="374.6" y="295.23" text-anchor="end" font-size="9.6">50</text>
<line x1="376.8" y1="271.16" x2="380.4" y2="271.16" stroke="#303030" stroke-width="1"/>
<text x="374.6" y="274.36" text-anchor="end" font-size="9.6">55</text>
<line x1="376.8" y1="250.28" x2="380.4" y2="250.28" stroke="#303030" stroke-width="1"/>
<text x="374.6" y="253.48" text-anchor="end" font-size="9.6">60</text>
<line x1="376.8" y1="229.4" x2="380.4" y2="229.4" stroke="#303030" stroke-width="1"/>
<text x="374.6" y="232.6" text-anchor="end" font-size="9.6">65</text>
<line x1="529.9" y1="406.86" x2="531.9" y2="406.86" stroke="#303030" stroke-width="1"/>
<line x1="529.9" y1="385.98" x2="531.9" y2="385.98" stroke="#303030" stroke-width="1"/>
<line x1="529.9" y1="365.11" x2="531.9" y2="365.11" stroke="#303030" stroke-width="1"/>
<line x1="529.9" y1="344.23" x2="531.9" y2="344.23" stroke="#303030" stroke-width="1"/>
<line x1="529.9" y1="323.35" x2="531.9" y2="323.35" stroke="#303030" stroke-width="1"/>
<line x1="529.9" y1="302.47" x2="531.9" y2="302.47" stroke="#303030" stroke-width="1"/>
<line x1="529.9" y1="281.59" x2="531.9" y2="281.59" stroke="#303030" stroke-width="1"/>
<line x1="529.9" y1="260.72" x2="531.9" y2="260.72" stroke="#303030" stroke-width="1"/>
<line x1="529.9" y1="239.84" x2="531.9" y2="239.84" stroke="#303030" stroke-width="1"/>
<line x1="528.3" y1="417.3" x2="531.9" y2="417.3" stroke="#303030" stroke-width="1"/>
<line x1="528.3" y1="396.42" x2="531.9" y2="396.42" stroke="#303030" stroke-width="1"/>
<line x1="528.3" y1="375.54" x2="531.9" y2="375.54" stroke="#303030" stroke-width="1"/>
<line x1="528.3" y1="354.67" x2="531.9" y2="354.67" stroke="#303030" stroke-width="1"/>
<line x1="528.3" y1="333.79" x2="531.9" y2="333.79" stroke="#303030" stroke-width="1"/>
<line x1="528.3" y1="312.91" x2="531.9" y2="312.91" stroke="#303030" stroke-width="1"/>
<line x1="528.3" y1="292.03" x2="531.9" y2="292.03" stroke="#303030" stroke-width="1"/>
<line x1="528.3" y1="271.16" x2="531.9" y2="271.16" stroke="#303030" stroke-width="1"/>
<line x1="528.3" y1="250.28" x2="531.9" y2="250.28" stroke="#303030" stroke-width="1"/>
<line x1="528.3" y1="229.4" x2="531.9" y2="229.4" stroke="#303030" stroke-width="1"/>
<line x1="380.6" y1="417.3" x2="380.6" y2="419.3" stroke="#303030" stroke-width="1"/>
<line x1="393.2" y1="417.3" x2="393.2" y2="420.9" stroke="#303030" stroke-width="1"/>
<text x="393.2" y="429.9" text-anchor="middle" font-size="9.6">0</text>
<line x1="405.8" y1="417.3" x2="405.8" y2="419.3" stroke="#303030" stroke-width="1"/>
<line x1="418.4" y1="417.3" x2="418.4" y2="420.9" stroke="#303030" stroke-width="1"/>
<text x="418.4" y="429.9" text-anchor="middle" font-size="9.6">10</text>
<line x1="431" y1="417.3" x2="431" y2="419.3" stroke="#303030" stroke-width="1"/>
<line x1="443.6" y1="417.3" x2="443.6" y2="420.9" stroke="#303030" stroke-width="1"/>
<text x="443.6" y="429.9" text-anchor="middle" font-size="9.6">20</text>
<line x1="456.2" y1="417.3" x2="456.2" y2="419.3" stroke="#303030" stroke-width="1"/>
<line x1="468.8" y1="417.3" x2="468.8" y2="420.9" stroke="#303030" stroke-width="1"/>
<text x="468.8" y="429.9" text-anchor="middle" font-size="9.6">30</text>
<line x1="481.4" y1="417.3" x2="481.4" y2="419.3" stroke="#303030" stroke-width="1"/>
<line x1="494" y1="417.3" x2="494" y2="420.9" stroke="#303030" stroke-width="1"/>
<text x="494" y="429.9" text-anchor="middle" font-size="9.6">40</text>
<line x1="506.6" y1="417.3" x2="506.6" y2="419.3" stroke="#303030" stroke-width="1"/>
<line x1="519.2" y1="417.3" x2="519.2" y2="420.9" stroke="#303030" stroke-width="1"/>
<text x="519.2" y="429.9" text-anchor="middle" font-size="9.6">50</text>
<line x1="531.8" y1="417.3" x2="531.8" y2="419.3" stroke="#303030" stroke-width="1"/>
<line x1="531.78" y1="417.3" x2="531.78" y2="419.3" stroke="#303030" stroke-width="1"/>
<line x1="542.6" y1="417.3" x2="542.6" y2="420.9" stroke="#303030" stroke-width="1"/>
<text x="542.6" y="429.9" text-anchor="middle" font-size="9.6">0</text>
<line x1="553.42" y1="417.3" x2="553.42" y2="419.3" stroke="#303030" stroke-width="1"/>
<line x1="564.23" y1="417.3" x2="564.23" y2="420.9" stroke="#303030" stroke-width="1"/>
<text x="564.23" y="429.9" text-anchor="middle" font-size="9.6">10</text>
<line x1="575.05" y1="417.3" x2="575.05" y2="419.3" stroke="#303030" stroke-width="1"/>
<line x1="585.86" y1="417.3" x2="585.86" y2="420.9" stroke="#303030" stroke-width="1"/>
<text x="585.86" y="429.9" text-anchor="middle" font-size="9.6">20</text>
<line x1="596.68" y1="417.3" x2="596.68" y2="419.3" stroke="#303030" stroke-width="1"/>
<line x1="607.49" y1="417.3" x2="607.49" y2="420.9" stroke="#303030" stroke-width="1"/>
<text x="607.49" y="429.9" text-anchor="middle" font-size="9.6">30</text>
<line x1="618.31" y1="417.3" x2="618.31" y2="419.3" stroke="#303030" stroke-width="1"/>
<line x1="629.12" y1="417.3" x2="629.12" y2="420.9" stroke="#303030" stroke-width="1"/>
<text x="629.12" y="429.9" text-anchor="middle" font-size="9.6">40</text>
<line x1="639.94" y1="417.3" x2="639.94" y2="419.3" stroke="#303030" stroke-width="1"/>
<line x1="650.75" y1="417.3" x2="650.75" y2="420.9" stroke="#303030" stroke-width="1"/>
<text x="650.75" y="429.9" text-anchor="middle" font-size="9.6">50</text>
<line x1="661.57" y1="417.3" x2="661.57" y2="419.3" stroke="#303030" stroke-width="1"/>
<line x1="672.38" y1="417.3" x2="672.38" y2="420.9" stroke="#303030" stroke-width="1"/>
<text x="672.38" y="429.9" text-anchor="middle" font-size="9.6">60</text>
<line x1="683.2" y1="417.3" x2="683.2" y2="419.3" stroke="#303030" stroke-width="1"/>
<path d="M410.84 392.66V398.51M409.04 392.66H412.64M409.04 398.51H412.64" stroke="#000" stroke-width="0.7" fill="none"/>
<path d="M516.68 296.63V311.66M514.88 296.63H518.48M514.88 311.66H518.48" stroke="#000" stroke-width="0.7" fill="none"/>
<path d="M395.72 395.17V399.35M393.92 395.17H397.52M393.92 399.35H397.52" stroke="#000" stroke-width="0.7" fill="none"/>
<path d="M431 341.3V347.15M429.2 341.3H432.8M429.2 347.15H432.8" stroke="#f03a3a" stroke-width="0.7" fill="none"/>
<path d="M471.32 260.72V271.57M469.52 260.72H473.12M469.52 271.57H473.12" stroke="#1f63e0" stroke-width="0.7" fill="none"/>
<path d="M516.68 265.73V270.74M514.88 265.73H518.48M514.88 270.74H518.48" stroke="#1f63e0" stroke-width="0.7" fill="none"/>
<polyline points="395.72,397.26 410.84,395.59 431,377.21 451.16,357.59 471.32,315.42 491.48,315.42 516.68,304.14" fill="none" stroke="#000" stroke-width="0.9" stroke-linejoin="round"/>
<rect x="393.92" y="395.46" width="3.6" height="3.6" fill="#000"/>
<rect x="409.04" y="393.79" width="3.6" height="3.6" fill="#000"/>
<rect x="429.2" y="375.41" width="3.6" height="3.6" fill="#000"/>
<rect x="449.36" y="355.79" width="3.6" height="3.6" fill="#000"/>
<rect x="469.52" y="313.62" width="3.6" height="3.6" fill="#000"/>
<rect x="489.68" y="313.62" width="3.6" height="3.6" fill="#000"/>
<rect x="514.88" y="302.34" width="3.6" height="3.6" fill="#000"/>
<polyline points="395.72,390.99 410.84,360.09 431,344.23 451.16,292.03 471.32,270.32 491.48,274.5 516.68,256.96" fill="none" stroke="#f03a3a" stroke-width="0.7" stroke-linejoin="round"/>
<circle cx="395.72" cy="390.99" r="2.2" fill="#f03a3a"/>
<circle cx="410.84" cy="360.09" r="2.2" fill="#f03a3a"/>
<circle cx="431" cy="344.23" r="2.2" fill="#f03a3a"/>
<circle cx="451.16" cy="292.03" r="2.2" fill="#f03a3a"/>
<circle cx="471.32" cy="270.32" r="2.2" fill="#f03a3a"/>
<circle cx="491.48" cy="274.5" r="2.2" fill="#f03a3a"/>
<circle cx="516.68" cy="256.96" r="2.2" fill="#f03a3a"/>
<polyline points="395.72,402.27 410.84,374.71 431,324.6 451.16,285.77 471.32,266.14 491.48,271.99 516.68,268.23" fill="none" stroke="#1f63e0" stroke-width="0.8" stroke-linejoin="round"/>
<path d="M392.92 404.33L398.52 404.33L395.72 399.74Z" fill="#1f63e0"/>
<path d="M408.04 376.78L413.64 376.78L410.84 372.18Z" fill="#1f63e0"/>
<path d="M428.2 326.67L433.8 326.67L431 322.08Z" fill="#1f63e0"/>
<path d="M448.36 287.84L453.96 287.84L451.16 283.24Z" fill="#1f63e0"/>
<path d="M468.52 268.21L474.12 268.21L471.32 263.62Z" fill="#1f63e0"/>
<path d="M488.68 274.06L494.28 274.06L491.48 269.47Z" fill="#1f63e0"/>
<path d="M513.88 270.3L519.48 270.3L516.68 265.71Z" fill="#1f63e0"/>
<text x="401.62" y="397.26" text-anchor="middle" font-size="10.8">b</text>
<text x="415.94" y="397.99" text-anchor="middle" font-size="10.8">c</text>
<text x="435.7" y="380.41" text-anchor="middle" font-size="10.8">c</text>
<text x="456.16" y="360.69" text-anchor="middle" font-size="10.8">b</text>
<text x="473.32" y="312.42" text-anchor="middle" font-size="10.8">b</text>
<text x="497.68" y="324.32" text-anchor="middle" font-size="10.8">b</text>
<text x="522.18" y="307.24" text-anchor="middle" font-size="10.8">b</text>
<text x="399.72" y="389.29" text-anchor="middle" font-size="10.8">a</text>
<text x="415.24" y="364.19" text-anchor="middle" font-size="10.8">a</text>
<text x="437.2" y="347.33" text-anchor="middle" font-size="10.8">b</text>
<text x="455.66" y="296.73" text-anchor="middle" font-size="10.8">a</text>
<text x="475.82" y="279.62" text-anchor="middle" font-size="10.8">a</text>
<text x="495.58" y="280.9" text-anchor="middle" font-size="10.8">a</text>
<text x="521.68" y="256.16" text-anchor="middle" font-size="10.8">a</text>
<text x="400.42" y="406.07" text-anchor="middle" font-size="10.8">c</text>
<text x="416.04" y="376.11" text-anchor="middle" font-size="10.8">b</text>
<text x="436.2" y="324.3" text-anchor="middle" font-size="10.8">a</text>
<text x="456.36" y="287.07" text-anchor="middle" font-size="10.8">a</text>
<text x="476.82" y="266.44" text-anchor="middle" font-size="10.8">a</text>
<text x="496.38" y="267.29" text-anchor="middle" font-size="10.8">a</text>
<text x="521.78" y="270.93" text-anchor="middle" font-size="10.8">a</text>
<path d="M577.21 316.67V326.69M575.41 316.67H579.01M575.41 326.69H579.01" stroke="#000" stroke-width="0.7" fill="none"/>
<path d="M601 309.15V313.33M599.2 309.15H602.8M599.2 313.33H602.8" stroke="#000" stroke-width="0.7" fill="none"/>
<path d="M663.73 308.74V313.75M661.93 308.74H665.53M661.93 313.75H665.53" stroke="#000" stroke-width="0.7" fill="none"/>
<path d="M559.9 369.28V374.29M558.1 369.28H561.7M558.1 374.29H561.7" stroke="#f03a3a" stroke-width="0.7" fill="none"/>
<path d="M601 403.1V407.28M599.2 403.1H602.8M599.2 407.28H602.8" stroke="#f03a3a" stroke-width="0.7" fill="none"/>
<polyline points="544.76,352.58 559.9,341.72 577.21,321.68 601,311.24 613.98,307.07 631.28,308.74 663.73,311.24" fill="none" stroke="#000" stroke-width="0.9" stroke-linejoin="round"/>
<rect x="542.96" y="350.78" width="3.6" height="3.6" fill="#000"/>
<rect x="558.1" y="339.92" width="3.6" height="3.6" fill="#000"/>
<rect x="575.41" y="319.88" width="3.6" height="3.6" fill="#000"/>
<rect x="599.2" y="309.44" width="3.6" height="3.6" fill="#000"/>
<rect x="612.18" y="305.27" width="3.6" height="3.6" fill="#000"/>
<rect x="629.48" y="306.94" width="3.6" height="3.6" fill="#000"/>
<rect x="661.93" y="309.44" width="3.6" height="3.6" fill="#000"/>
<polyline points="544.76,395.59 559.9,371.79 577.21,383.48 601,405.19 613.98,350.07 631.28,313.33 663.73,330.87" fill="none" stroke="#f03a3a" stroke-width="0.7" stroke-linejoin="round"/>
<circle cx="544.76" cy="395.59" r="2.2" fill="#f03a3a"/>
<circle cx="559.9" cy="371.79" r="2.2" fill="#f03a3a"/>
<circle cx="577.21" cy="383.48" r="2.2" fill="#f03a3a"/>
<circle cx="601" cy="405.19" r="2.2" fill="#f03a3a"/>
<circle cx="613.98" cy="350.07" r="2.2" fill="#f03a3a"/>
<circle cx="631.28" cy="313.33" r="2.2" fill="#f03a3a"/>
<circle cx="663.73" cy="330.87" r="2.2" fill="#f03a3a"/>
<text x="549.96" y="357.28" text-anchor="middle" font-size="10.8">a</text>
<text x="565.6" y="345.52" text-anchor="middle" font-size="10.8">a</text>
<text x="581.71" y="315.68" text-anchor="middle" font-size="10.8">a</text>
<text x="606.2" y="307.04" text-anchor="middle" font-size="10.8">a</text>
<text x="618.98" y="303.87" text-anchor="middle" font-size="10.8">a</text>
<text x="636.58" y="304.64" text-anchor="middle" font-size="10.8">a</text>
<text x="668.73" y="307.74" text-anchor="middle" font-size="10.8">a</text>
<text x="550.86" y="398.69" text-anchor="middle" font-size="10.8">b</text>
<text x="566.8" y="374.89" text-anchor="middle" font-size="10.8">b</text>
<text x="583.31" y="386.58" text-anchor="middle" font-size="10.8">b</text>
<text x="607.4" y="408.99" text-anchor="middle" font-size="10.8">b</text>
<text x="620.88" y="353.17" text-anchor="middle" font-size="10.8">b</text>
<text x="634.28" y="326.73" text-anchor="middle" font-size="10.8">b</text>
<text x="669.43" y="333.97" text-anchor="middle" font-size="10.8">b</text>
<rect x="384.4" y="233.1" width="55.6" height="41.2" fill="#fff" stroke="#9a9a9a" stroke-width="0.9"/>
<line x1="386.3" y1="240.2" x2="410.3" y2="240.2" stroke="#000" stroke-width="1"/>
<rect x="396.6" y="238.3" width="3.8" height="3.8" fill="#000"/>
<text x="413.5" y="243.98" font-size="10.8">CN15</text>
<line x1="386.3" y1="254.1" x2="410.3" y2="254.1" stroke="#f49a9a" stroke-width="1"/>
<circle cx="398.5" cy="254.1" r="2.2" fill="#f03a3a"/>
<text x="413.5" y="257.88" font-size="10.8">CN20</text>
<line x1="386.3" y1="267.4" x2="410.3" y2="267.4" stroke="#3a7ae6" stroke-width="1"/>
<path d="M395.9 269.32L401.1 269.32L398.5 265.05Z" fill="#1f63e0"/>
<text x="413.5" y="271.18" font-size="10.8">CN25</text>
<rect x="535.7" y="232.5" width="87" height="29.1" fill="#fff" stroke="#9a9a9a" stroke-width="0.9"/>
<line x1="538" y1="240.5" x2="561.8" y2="240.5" stroke="#000" stroke-width="1"/>
<rect x="548.1" y="238.6" width="3.8" height="3.8" fill="#000"/>
<text x="564.8" y="244.28" font-size="10.8">Green Waste</text>
<line x1="538" y1="254.1" x2="561.8" y2="254.1" stroke="#f03a3a" stroke-width="1"/>
<circle cx="550" cy="254.1" r="2.2" fill="#f03a3a"/>
<text x="564.8" y="257.88" font-size="10.8">Straw</text>
<text x="531.5" y="443.7" text-anchor="middle" font-size="12.0">Composting time (days)</text>
<text transform="translate(358.5 322) rotate(-90)" text-anchor="middle" font-size="12">Cation exchange capacity (cmol<tspan font-size="8" dy="-4">+</tspan><tspan dy="4">·kg</tspan><tspan font-size="8" dy="-4">-1</tspan><tspan dy="4">)</tspan></text>
<text x="349" y="224.6" font-size="18.5">D</text>
</svg></body></html>
